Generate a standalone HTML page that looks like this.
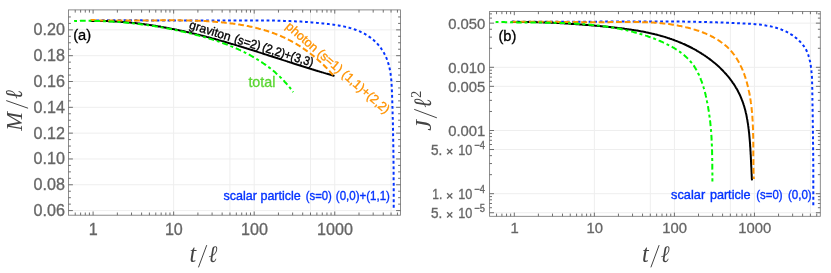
<!DOCTYPE html>
<html><head><meta charset="utf-8"><title>plot</title>
<style>html,body{margin:0;padding:0;background:#fff;overflow:hidden}svg{display:block;will-change:transform}svg text{white-space:pre}</style></head>
<body>
<svg width="831" height="273" viewBox="0 0 831 273">
<rect width="831" height="273" fill="#fff"/>
<line x1="173.65" y1="9.90" x2="173.65" y2="215.20" stroke="#eeeeee" stroke-width="1"/>
<line x1="229.95" y1="9.90" x2="229.95" y2="215.20" stroke="#eeeeee" stroke-width="1"/>
<line x1="254.20" y1="9.90" x2="254.20" y2="215.20" stroke="#eeeeee" stroke-width="1"/>
<line x1="310.50" y1="9.90" x2="310.50" y2="215.20" stroke="#eeeeee" stroke-width="1"/>
<line x1="334.75" y1="9.90" x2="334.75" y2="215.20" stroke="#eeeeee" stroke-width="1"/>
<line x1="391.05" y1="9.90" x2="391.05" y2="215.20" stroke="#eeeeee" stroke-width="1"/>
<line x1="68.50" y1="210.60" x2="400.50" y2="210.60" stroke="#eeeeee" stroke-width="1"/>
<line x1="68.50" y1="184.78" x2="400.50" y2="184.78" stroke="#eeeeee" stroke-width="1"/>
<line x1="68.50" y1="158.96" x2="400.50" y2="158.96" stroke="#eeeeee" stroke-width="1"/>
<line x1="68.50" y1="133.14" x2="400.50" y2="133.14" stroke="#eeeeee" stroke-width="1"/>
<line x1="68.50" y1="107.32" x2="400.50" y2="107.32" stroke="#eeeeee" stroke-width="1"/>
<line x1="68.50" y1="81.50" x2="400.50" y2="81.50" stroke="#eeeeee" stroke-width="1"/>
<line x1="68.50" y1="55.68" x2="400.50" y2="55.68" stroke="#eeeeee" stroke-width="1"/>
<line x1="68.50" y1="29.86" x2="400.50" y2="29.86" stroke="#eeeeee" stroke-width="1"/>
<path d="M90.6,20.4 L92.2,20.4 L93.7,20.4 L95.2,20.4 L96.7,20.4 L98.2,20.4 L99.8,20.3 L101.3,20.3 L102.8,20.3 L104.4,20.3 L105.9,20.3 L107.4,20.3 L109.0,20.3 L110.5,20.3 L112.0,20.3 L113.6,20.3 L115.1,20.3 L116.6,20.3 L118.2,20.3 L119.7,20.3 L121.2,20.3 L122.8,20.3 L124.3,20.3 L125.8,20.3 L127.4,20.3 L128.9,20.3 L130.5,20.3 L132.0,20.3 L133.6,20.3 L135.1,20.3 L136.6,20.3 L138.2,20.3 L139.7,20.3 L141.3,20.3 L142.8,20.4 L144.4,20.4 L145.9,20.4 L147.4,20.4 L149.0,20.4 L150.5,20.4 L152.1,20.4 L153.6,20.4 L155.2,20.4 L156.7,20.4 L158.3,20.4 L159.8,20.5 L161.4,20.5 L162.9,20.5 L164.4,20.5 L166.0,20.5 L167.5,20.5 L169.1,20.5 L170.6,20.5 L172.2,20.5 L173.7,20.5 L175.3,20.6 L176.8,20.6 L178.3,20.6 L179.9,20.6 L181.4,20.6 L183.0,20.6 L184.5,20.6 L186.1,20.6 L187.6,20.6 L189.1,20.6 L190.7,20.6 L192.2,20.6 L193.8,20.6 L195.3,20.6 L196.8,20.6 L198.4,20.6 L199.9,20.6 L201.4,20.6 L203.0,20.6 L204.5,20.6 L206.0,20.6 L207.6,20.6 L209.1,20.6 L210.6,20.6 L212.2,20.6 L213.7,20.6 L215.2,20.5 L216.8,20.5 L218.3,20.5 L219.8,20.5 L221.3,20.5 L222.9,20.5 L224.4,20.5 L225.9,20.5 L227.4,20.5 L229.0,20.4 L230.5,20.4 L232.0,20.4 L233.5,20.4 L235.1,20.4 L236.6,20.4 L238.1,20.4 L239.6,20.4 L241.2,20.4 L242.7,20.4 L244.2,20.4 L245.7,20.4 L247.3,20.4 L248.8,20.4 L250.3,20.4 L251.8,20.4 L253.4,20.4 L254.9,20.4 L256.4,20.4 L257.9,20.4 L259.5,20.4 L261.0,20.4 L262.5,20.4 L264.0,20.4 L265.6,20.5 L267.1,20.5 L268.6,20.5 L270.2,20.5 L271.7,20.5 L273.2,20.6 L274.7,20.6 L276.3,20.6 L277.8,20.7 L279.4,20.7 L280.9,20.8 L282.4,20.8 L284.0,20.9 L285.5,20.9 L287.0,21.0 L288.6,21.0 L290.1,21.1 L291.7,21.2 L293.2,21.2 L294.7,21.3 L296.3,21.4 L297.8,21.5 L299.4,21.6 L300.9,21.6 L302.5,21.7 L304.0,21.8 L305.6,21.9 L307.2,22.0 L308.7,22.2 L310.3,22.3 L311.8,22.4 L313.4,22.5 L315.0,22.6 L316.5,22.8 L318.1,22.9 L319.7,23.1 L321.2,23.2 L322.8,23.4 L324.4,23.5 L325.9,23.7 L327.5,23.9 L329.1,24.1 L330.7,24.2 L332.2,24.5 L333.8,24.7 L335.3,24.9 L336.9,25.2 L338.4,25.4 L340.0,25.7 L341.5,26.0 L343.0,26.3 L344.5,26.6 L346.0,27.0 L347.5,27.3 L349.0,27.7 L350.5,28.1 L351.9,28.6 L353.4,29.0 L354.8,29.5 L356.2,30.0 L357.6,30.6 L359.0,31.1 L360.3,31.7 L361.7,32.4 L363.0,33.0 L364.3,33.7 L365.6,34.4 L366.9,35.2 L368.1,36.0 L369.3,36.8 L370.5,37.6 L371.7,38.5 L372.8,39.5 L374.0,40.4 L375.1,41.4 L376.1,42.5 L377.2,43.6 L378.2,44.7 L379.1,45.8 L380.1,47.0 L381.0,48.2 L381.8,49.5 L382.7,50.8 L383.5,52.1 L384.2,53.4 L384.9,54.8 L385.6,56.1 L386.2,57.5 L386.8,59.0 L387.3,60.4 L387.8,61.9 L388.3,63.3 L388.7,64.8 L389.1,66.3 L389.5,67.8 L389.8,69.3 L390.1,70.8 L390.3,72.3 L390.6,73.9 L390.8,75.4 L391.0,76.9 L391.1,78.5 L391.3,80.0 L391.4,81.6 L391.5,83.1 L391.6,84.7 L391.7,86.2 L391.8,87.8 L391.8,89.4 L391.9,90.9 L392.0,92.5 L392.0,94.0 L392.1,95.6 L392.1,97.2 L392.2,98.7 L392.2,100.3 L392.3,101.8 L392.3,103.4 L392.4,104.9 L392.4,106.5 L392.5,108.0 L392.5,109.6 L392.6,111.1 L392.6,112.6 L392.6,114.2 L392.7,115.7 L392.7,117.3 L392.8,118.8 L392.8,120.3 L392.8,121.9 L392.9,123.4 L392.9,124.9 L392.9,126.5 L393.0,128.0 L393.0,129.6 L393.0,131.1 L393.1,132.6 L393.1,134.2 L393.1,135.7 L393.2,137.2 L393.2,138.7 L393.2,140.3 L393.2,141.8 L393.3,143.3 L393.3,144.9 L393.3,146.4 L393.3,147.9 L393.4,149.5 L393.4,151.0 L393.4,152.5 L393.4,154.0 L393.4,155.6 L393.5,157.1 L393.5,158.6 L393.5,160.2 L393.5,161.7 L393.5,163.2 L393.5,164.7 L393.5,166.3 L393.6,167.8 L393.6,169.3 L393.6,170.9 L393.6,172.4 L393.6,173.9 L393.6,175.5 L393.6,177.0 L393.6,178.5 L393.6,180.1 L393.6,181.6 L393.7,183.1 L393.7,184.7 L393.7,186.2 L393.7,187.7 L393.7,189.3 L393.7,190.8 L393.7,192.4 L393.7,193.9 L393.7,195.4 L393.7,197.0 L393.7,198.5 L393.7,200.1 L393.7,201.6 L393.7,203.2 L393.7,204.7 L393.7,206.3 L393.7,207.8" fill="none" stroke="#0433ff" stroke-width="2" stroke-dasharray="2.8 2.7" stroke-dashoffset="0"/>
<path d="M90.7,21.0 L91.5,21.0 L92.4,21.0 L93.2,20.9 L94.1,20.9 L94.9,20.9 L95.8,20.9 L96.6,20.9 L97.5,20.9 L98.3,20.9 L99.1,20.9 L100.0,21.0 L100.8,21.0 L101.7,21.0 L102.5,21.0 L103.4,21.0 L104.2,21.0 L105.1,21.0 L105.9,21.1 L106.8,21.1 L107.6,21.1 L108.4,21.2 L109.3,21.2 L110.1,21.2 L111.0,21.3 L111.8,21.3 L112.6,21.3 L113.5,21.4 L114.3,21.4 L115.2,21.5 L116.0,21.5 L116.9,21.6 L117.7,21.6 L118.5,21.7 L119.4,21.7 L120.2,21.8 L121.0,21.8 L121.9,21.9 L122.7,22.0 L123.6,22.0 L124.4,22.1 L125.2,22.2 L126.1,22.2 L126.9,22.3 L127.7,22.4 L128.6,22.5 L129.4,22.5 L130.3,22.6 L131.1,22.7 L131.9,22.8 L132.8,22.9 L133.6,23.0 L134.4,23.0 L135.3,23.1 L136.1,23.2 L136.9,23.3 L137.8,23.4 L138.6,23.5 L139.4,23.6 L140.3,23.7 L141.1,23.8 L141.9,23.9 L142.8,24.0 L143.6,24.1 L144.4,24.2 L145.2,24.4 L146.1,24.5 L146.9,24.6 L147.7,24.7 L148.6,24.8 L149.4,24.9 L150.2,25.1 L151.1,25.2 L151.9,25.3 L152.7,25.4 L153.5,25.6 L154.4,25.7 L155.2,25.8 L156.0,26.0 L156.8,26.1 L157.7,26.2 L158.5,26.4 L159.3,26.5 L160.1,26.6 L161.0,26.8 L161.8,26.9 L162.6,27.1 L163.4,27.2 L164.3,27.4 L165.1,27.5 L165.9,27.7 L166.7,27.8 L167.6,28.0 L168.4,28.1 L169.2,28.3 L170.0,28.4 L170.9,28.6 L171.7,28.8 L172.5,28.9 L173.3,29.1 L174.1,29.2 L175.0,29.4 L175.8,29.6 L176.6,29.7 L177.4,29.9 L178.2,30.1 L179.1,30.3 L179.9,30.4 L180.7,30.6 L181.5,30.8 L182.3,31.0 L183.2,31.1 L184.0,31.3 L184.8,31.5 L185.6,31.7 L186.4,31.9 L187.2,32.1 L188.1,32.2 L188.9,32.4 L189.7,32.6 L190.5,32.8 L191.3,33.0 L192.1,33.2 L193.0,33.4 L193.8,33.6 L194.6,33.8 L195.4,34.0 L196.2,34.2 L197.0,34.4 L197.9,34.6 L198.7,34.8 L199.5,35.0 L200.3,35.2 L201.1,35.4 L201.9,35.6 L202.7,35.8 L203.5,36.0 L204.4,36.2 L205.2,36.4 L206.0,36.6 L206.8,36.9 L207.6,37.1 L208.4,37.3 L209.2,37.5 L210.0,37.7 L210.8,37.9 L211.7,38.2 L212.5,38.4 L213.3,38.6 L214.1,38.8 L214.9,39.0 L215.7,39.3 L216.5,39.5 L217.3,39.7 L218.1,39.9 L218.9,40.2 L219.8,40.4 L220.6,40.6 L221.4,40.9 L222.2,41.1 L223.0,41.3 L223.8,41.5 L224.6,41.8 L225.4,42.0 L226.2,42.2 L227.0,42.5 L227.8,42.7 L228.6,43.0 L229.4,43.2 L230.2,43.4 L231.0,43.7 L231.9,43.9 L232.7,44.1 L233.5,44.4 L234.3,44.6 L235.1,44.9 L235.9,45.1 L236.7,45.4 L237.5,45.6 L238.3,45.8 L239.1,46.1 L239.9,46.3 L240.7,46.6 L241.5,46.8 L242.3,47.1 L243.1,47.3 L243.9,47.6 L244.7,47.8 L245.5,48.1 L246.3,48.3 L247.1,48.6 L247.9,48.8 L248.7,49.1 L249.5,49.3 L250.3,49.6 L251.1,49.8 L251.9,50.1 L252.8,50.3 L253.6,50.6 L254.4,50.8 L255.2,51.1 L256.0,51.4 L256.8,51.6 L257.6,51.9 L258.4,52.1 L259.2,52.4 L260.0,52.6 L260.8,52.9 L261.6,53.1 L262.4,53.4 L263.2,53.7 L264.0,53.9 L264.8,54.2 L265.6,54.4 L266.4,54.7 L267.2,54.9 L268.0,55.2 L268.8,55.5 L269.6,55.7 L270.4,56.0 L271.2,56.2 L272.0,56.5 L272.8,56.7 L273.6,57.0 L274.4,57.3 L275.2,57.5 L276.0,57.8 L276.8,58.0 L277.6,58.3 L278.4,58.6 L279.2,58.8 L280.0,59.1 L280.8,59.3 L281.6,59.6 L282.4,59.9 L283.2,60.1 L284.0,60.4 L284.8,60.6 L285.6,60.9 L286.4,61.1 L287.2,61.4 L288.0,61.7 L288.8,61.9 L289.6,62.2 L290.4,62.4 L291.2,62.7 L292.0,62.9 L292.8,63.2 L293.6,63.5 L294.4,63.7 L295.2,64.0 L296.0,64.2 L296.8,64.5 L297.6,64.7 L298.4,65.0 L299.2,65.2 L300.0,65.5 L300.8,65.7 L301.6,66.0 L302.4,66.3 L303.2,66.5 L304.0,66.8 L304.8,67.0 L305.6,67.3 L306.4,67.5 L307.2,67.8 L308.0,68.0 L308.8,68.3 L309.6,68.5 L310.4,68.8 L311.2,69.0 L312.0,69.3 L312.8,69.5 L313.6,69.7 L314.4,70.0 L315.2,70.2 L316.0,70.5 L316.8,70.7 L317.6,71.0 L318.4,71.2 L319.2,71.4 L320.0,71.7 L320.8,71.9 L321.6,72.2 L322.4,72.4 L323.2,72.6 L324.0,72.9 L324.8,73.1 L325.6,73.4 L326.4,73.6 L327.2,73.8 L328.0,74.1 L328.9,74.3 L329.7,74.5 L330.5,74.8 L331.3,75.0 L332.1,75.2 L332.9,75.5 L333.7,75.7 L334.5,75.9" fill="none" stroke="#000" stroke-width="2"/>
<path d="M90.6,20.0 L91.5,20.0 L92.3,20.1 L93.2,20.1 L94.1,20.1 L94.9,20.2 L95.8,20.2 L96.7,20.2 L97.5,20.3 L98.4,20.3 L99.3,20.3 L100.1,20.4 L101.0,20.4 L101.8,20.4 L102.7,20.4 L103.6,20.5 L104.4,20.5 L105.3,20.5 L106.2,20.5 L107.0,20.5 L107.9,20.5 L108.8,20.6 L109.6,20.6 L110.5,20.6 L111.4,20.6 L112.2,20.6 L113.1,20.6 L114.0,20.6 L114.8,20.6 L115.7,20.6 L116.6,20.6 L117.4,20.6 L118.3,20.6 L119.2,20.6 L120.0,20.6 L120.9,20.6 L121.7,20.6 L122.6,20.6 L123.5,20.6 L124.3,20.6 L125.2,20.6 L126.1,20.6 L126.9,20.6 L127.8,20.6 L128.7,20.6 L129.5,20.6 L130.4,20.6 L131.3,20.6 L132.1,20.6 L133.0,20.6 L133.9,20.6 L134.7,20.6 L135.6,20.6 L136.5,20.6 L137.3,20.6 L138.2,20.6 L139.1,20.5 L139.9,20.5 L140.8,20.5 L141.7,20.5 L142.6,20.5 L143.4,20.5 L144.3,20.5 L145.2,20.5 L146.0,20.5 L146.9,20.5 L147.8,20.5 L148.6,20.4 L149.5,20.4 L150.4,20.4 L151.2,20.4 L152.1,20.4 L153.0,20.4 L153.8,20.4 L154.7,20.4 L155.6,20.4 L156.4,20.4 L157.3,20.4 L158.2,20.3 L159.0,20.3 L159.9,20.3 L160.8,20.3 L161.6,20.3 L162.5,20.3 L163.4,20.3 L164.2,20.3 L165.1,20.3 L166.0,20.3 L166.8,20.3 L167.7,20.3 L168.6,20.3 L169.4,20.3 L170.3,20.3 L171.2,20.3 L172.0,20.3 L172.9,20.3 L173.8,20.3 L174.6,20.3 L175.5,20.3 L176.4,20.3 L177.2,20.3 L178.1,20.3 L179.0,20.3 L179.9,20.3 L180.7,20.3 L181.6,20.4 L182.5,20.4 L183.3,20.4 L184.2,20.4 L185.1,20.4 L185.9,20.4 L186.8,20.4 L187.7,20.5 L188.5,20.5 L189.4,20.5 L190.3,20.5 L191.1,20.5 L192.0,20.6 L192.9,20.6 L193.7,20.6 L194.6,20.6 L195.5,20.7 L196.3,20.7 L197.2,20.7 L198.1,20.8 L198.9,20.8 L199.8,20.8 L200.7,20.9 L201.5,20.9 L202.4,21.0 L203.3,21.0 L204.1,21.1 L205.0,21.1 L205.9,21.1 L206.7,21.2 L207.6,21.2 L208.5,21.3 L209.3,21.4 L210.2,21.4 L211.1,21.5 L211.9,21.5 L212.8,21.6 L213.7,21.7 L214.5,21.7 L215.4,21.8 L216.3,21.9 L217.1,21.9 L218.0,22.0 L218.8,22.1 L219.7,22.2 L220.6,22.2 L221.4,22.3 L222.3,22.4 L223.2,22.5 L224.0,22.6 L224.9,22.7 L225.8,22.8 L226.6,22.9 L227.5,23.0 L228.4,23.1 L229.2,23.2 L230.1,23.3 L231.0,23.4 L231.8,23.5 L232.7,23.6 L233.5,23.7 L234.4,23.8 L235.3,24.0 L236.1,24.1 L237.0,24.2 L237.8,24.3 L238.7,24.5 L239.6,24.6 L240.4,24.7 L241.3,24.9 L242.1,25.0 L243.0,25.2 L243.8,25.3 L244.7,25.5 L245.5,25.6 L246.4,25.8 L247.2,26.0 L248.1,26.1 L248.9,26.3 L249.8,26.5 L250.6,26.7 L251.5,26.8 L252.3,27.0 L253.2,27.2 L254.0,27.4 L254.9,27.6 L255.7,27.8 L256.5,28.0 L257.4,28.2 L258.2,28.4 L259.0,28.7 L259.9,28.9 L260.7,29.1 L261.5,29.3 L262.4,29.6 L263.2,29.8 L264.0,30.0 L264.8,30.3 L265.7,30.5 L266.5,30.8 L267.3,31.0 L268.1,31.3 L268.9,31.6 L269.8,31.8 L270.6,32.1 L271.4,32.4 L272.2,32.7 L273.0,33.0 L273.8,33.3 L274.6,33.6 L275.4,33.9 L276.2,34.2 L277.0,34.5 L277.8,34.8 L278.6,35.1 L279.4,35.4 L280.2,35.8 L281.0,36.1 L281.8,36.5 L282.5,36.8 L283.3,37.2 L284.1,37.5 L284.9,37.9 L285.7,38.3 L286.4,38.6 L287.2,39.0 L288.0,39.4 L288.7,39.8 L289.5,40.2 L290.3,40.6 L291.0,41.0 L291.8,41.4 L292.5,41.8 L293.3,42.2 L294.0,42.6 L294.8,43.1 L295.5,43.5 L296.3,43.9 L297.0,44.4 L297.7,44.8 L298.5,45.3 L299.2,45.7 L299.9,46.2 L300.7,46.7 L301.4,47.1 L302.1,47.6 L302.8,48.1 L303.5,48.6 L304.2,49.1 L305.0,49.6 L305.7,50.1 L306.4,50.6 L307.1,51.1 L307.8,51.6 L308.5,52.1 L309.2,52.6 L309.8,53.2 L310.5,53.7 L311.2,54.2 L311.9,54.8 L312.6,55.3 L313.3,55.8 L313.9,56.4 L314.6,56.9 L315.3,57.5 L315.9,58.1 L316.6,58.6 L317.3,59.2 L317.9,59.8 L318.6,60.4 L319.2,60.9 L319.9,61.5 L320.5,62.1 L321.1,62.7 L321.8,63.3 L322.4,63.9 L323.0,64.5 L323.7,65.1 L324.3,65.7 L324.9,66.3 L325.5,67.0 L326.2,67.6 L326.8,68.2 L327.4,68.8 L328.0,69.5 L328.6,70.1 L329.2,70.8 L329.8,71.4 L330.4,72.1 L331.0,72.7 L331.5,73.4 L332.1,74.0 L332.7,74.7 L333.3,75.3 L333.8,76.0" fill="none" stroke="#ff9300" stroke-width="2" stroke-dasharray="5.8 2.9" stroke-dashoffset="0"/>
<path d="M74.1,21.0 L74.9,20.9 L75.7,20.9 L76.5,20.9 L77.3,20.9 L78.1,20.9 L78.9,20.9 L79.7,20.9 L80.5,20.8 L81.3,20.8 L82.1,20.8 L82.9,20.8 L83.7,20.8 L84.5,20.8 L85.3,20.8 L86.1,20.8 L86.9,20.8 L87.7,20.8 L88.5,20.8 L89.3,20.8 L90.1,20.8 L90.9,20.9 L91.7,20.9 L92.5,20.9 L93.3,20.9 L94.1,20.9 L94.9,20.9 L95.7,20.9 L96.5,21.0 L97.3,21.0 L98.1,21.0 L98.9,21.0 L99.7,21.0 L100.5,21.1 L101.3,21.1 L102.0,21.1 L102.8,21.2 L103.6,21.2 L104.4,21.2 L105.2,21.3 L106.0,21.3 L106.8,21.3 L107.6,21.4 L108.4,21.4 L109.2,21.5 L110.0,21.5 L110.8,21.5 L111.6,21.6 L112.4,21.6 L113.2,21.7 L114.0,21.7 L114.8,21.8 L115.6,21.8 L116.3,21.9 L117.1,21.9 L117.9,22.0 L118.7,22.1 L119.5,22.1 L120.3,22.2 L121.1,22.2 L121.9,22.3 L122.7,22.4 L123.5,22.4 L124.3,22.5 L125.1,22.6 L125.9,22.6 L126.6,22.7 L127.4,22.8 L128.2,22.9 L129.0,22.9 L129.8,23.0 L130.6,23.1 L131.4,23.2 L132.2,23.3 L133.0,23.3 L133.8,23.4 L134.5,23.5 L135.3,23.6 L136.1,23.7 L136.9,23.8 L137.7,23.9 L138.5,24.0 L139.3,24.1 L140.1,24.2 L140.8,24.3 L141.6,24.4 L142.4,24.5 L143.2,24.6 L144.0,24.7 L144.8,24.8 L145.6,24.9 L146.4,25.0 L147.1,25.1 L147.9,25.2 L148.7,25.3 L149.5,25.4 L150.3,25.5 L151.1,25.7 L151.9,25.8 L152.6,25.9 L153.4,26.0 L154.2,26.1 L155.0,26.3 L155.8,26.4 L156.6,26.5 L157.4,26.6 L158.1,26.8 L158.9,26.9 L159.7,27.0 L160.5,27.2 L161.3,27.3 L162.1,27.4 L162.8,27.6 L163.6,27.7 L164.4,27.9 L165.2,28.0 L166.0,28.2 L166.8,28.3 L167.5,28.5 L168.3,28.6 L169.1,28.8 L169.9,28.9 L170.7,29.1 L171.5,29.2 L172.2,29.4 L173.0,29.5 L173.8,29.7 L174.6,29.8 L175.4,30.0 L176.1,30.2 L176.9,30.3 L177.7,30.5 L178.5,30.7 L179.3,30.8 L180.0,31.0 L180.8,31.2 L181.6,31.4 L182.4,31.5 L183.2,31.7 L183.9,31.9 L184.7,32.1 L185.5,32.3 L186.3,32.4 L187.1,32.6 L187.8,32.8 L188.6,33.0 L189.4,33.2 L190.2,33.4 L191.0,33.6 L191.7,33.8 L192.5,34.0 L193.3,34.2 L194.1,34.4 L194.9,34.6 L195.6,34.8 L196.4,35.0 L197.2,35.2 L198.0,35.4 L198.7,35.6 L199.5,35.8 L200.3,36.0 L201.1,36.2 L201.8,36.4 L202.6,36.6 L203.4,36.9 L204.2,37.1 L204.9,37.3 L205.7,37.5 L206.5,37.8 L207.2,38.0 L208.0,38.2 L208.8,38.4 L209.6,38.7 L210.3,38.9 L211.1,39.1 L211.9,39.4 L212.6,39.6 L213.4,39.9 L214.2,40.1 L214.9,40.4 L215.7,40.6 L216.4,40.9 L217.2,41.1 L218.0,41.4 L218.7,41.6 L219.5,41.9 L220.2,42.2 L221.0,42.4 L221.8,42.7 L222.5,43.0 L223.3,43.2 L224.0,43.5 L224.8,43.8 L225.5,44.1 L226.3,44.4 L227.0,44.6 L227.8,44.9 L228.5,45.2 L229.2,45.5 L230.0,45.8 L230.7,46.1 L231.5,46.4 L232.2,46.7 L232.9,47.0 L233.7,47.3 L234.4,47.6 L235.1,48.0 L235.9,48.3 L236.6,48.6 L237.3,48.9 L238.0,49.2 L238.8,49.6 L239.5,49.9 L240.2,50.2 L240.9,50.6 L241.7,50.9 L242.4,51.3 L243.1,51.6 L243.8,51.9 L244.5,52.3 L245.2,52.7 L245.9,53.0 L246.6,53.4 L247.3,53.7 L248.0,54.1 L248.7,54.5 L249.4,54.8 L250.1,55.2 L250.8,55.6 L251.5,56.0 L252.2,56.4 L252.9,56.8 L253.6,57.2 L254.2,57.5 L254.9,57.9 L255.6,58.4 L256.3,58.8 L256.9,59.2 L257.6,59.6 L258.3,60.0 L259.0,60.4 L259.6,60.8 L260.3,61.3 L260.9,61.7 L261.6,62.1 L262.2,62.6 L262.9,63.0 L263.5,63.5 L264.2,63.9 L264.8,64.4 L265.5,64.8 L266.1,65.3 L266.8,65.7 L267.4,66.2 L268.0,66.7 L268.6,67.1 L269.3,67.6 L269.9,68.1 L270.5,68.6 L271.1,69.1 L271.7,69.6 L272.4,70.1 L273.0,70.6 L273.6,71.1 L274.2,71.6 L274.8,72.1 L275.4,72.6 L276.0,73.2 L276.6,73.7 L277.1,74.2 L277.7,74.7 L278.3,75.3 L278.9,75.8 L279.5,76.4 L280.0,76.9 L280.6,77.5 L281.2,78.0 L281.7,78.6 L282.3,79.2 L282.9,79.7 L283.4,80.3 L284.0,80.9 L284.5,81.5 L285.0,82.1 L285.6,82.7 L286.1,83.3 L286.7,83.9 L287.2,84.5 L287.7,85.1 L288.2,85.7 L288.7,86.3 L289.3,87.0 L289.8,87.6 L290.3,88.2 L290.8,88.9 L291.3,89.5 L291.8,90.2 L292.3,90.8 L292.8,91.5 L293.2,92.1" fill="none" stroke="#00f900" stroke-width="2" stroke-dasharray="2.9 2.9 5.8 2.9" stroke-dashoffset="0"/>
<rect x="68.50" y="9.90" width="332.00" height="205.30" fill="none" stroke="#787878" stroke-width="0.85"/>
<line x1="75.23" y1="215.20" x2="75.23" y2="212.50" stroke="#606060" stroke-width="0.9"/>
<line x1="75.23" y1="9.90" x2="75.23" y2="12.60" stroke="#606060" stroke-width="0.9"/>
<line x1="80.62" y1="215.20" x2="80.62" y2="212.50" stroke="#606060" stroke-width="0.9"/>
<line x1="80.62" y1="9.90" x2="80.62" y2="12.60" stroke="#606060" stroke-width="0.9"/>
<line x1="85.29" y1="215.20" x2="85.29" y2="212.50" stroke="#606060" stroke-width="0.9"/>
<line x1="85.29" y1="9.90" x2="85.29" y2="12.60" stroke="#606060" stroke-width="0.9"/>
<line x1="89.41" y1="215.20" x2="89.41" y2="212.50" stroke="#606060" stroke-width="0.9"/>
<line x1="89.41" y1="9.90" x2="89.41" y2="12.60" stroke="#606060" stroke-width="0.9"/>
<line x1="93.10" y1="215.20" x2="93.10" y2="211.50" stroke="#606060" stroke-width="0.9"/>
<line x1="93.10" y1="9.90" x2="93.10" y2="13.60" stroke="#606060" stroke-width="0.9"/>
<line x1="117.35" y1="215.20" x2="117.35" y2="212.50" stroke="#606060" stroke-width="0.9"/>
<line x1="117.35" y1="9.90" x2="117.35" y2="12.60" stroke="#606060" stroke-width="0.9"/>
<line x1="131.53" y1="215.20" x2="131.53" y2="212.50" stroke="#606060" stroke-width="0.9"/>
<line x1="131.53" y1="9.90" x2="131.53" y2="12.60" stroke="#606060" stroke-width="0.9"/>
<line x1="141.60" y1="215.20" x2="141.60" y2="212.50" stroke="#606060" stroke-width="0.9"/>
<line x1="141.60" y1="9.90" x2="141.60" y2="12.60" stroke="#606060" stroke-width="0.9"/>
<line x1="149.40" y1="215.20" x2="149.40" y2="212.50" stroke="#606060" stroke-width="0.9"/>
<line x1="149.40" y1="9.90" x2="149.40" y2="12.60" stroke="#606060" stroke-width="0.9"/>
<line x1="155.78" y1="215.20" x2="155.78" y2="212.50" stroke="#606060" stroke-width="0.9"/>
<line x1="155.78" y1="9.90" x2="155.78" y2="12.60" stroke="#606060" stroke-width="0.9"/>
<line x1="161.17" y1="215.20" x2="161.17" y2="212.50" stroke="#606060" stroke-width="0.9"/>
<line x1="161.17" y1="9.90" x2="161.17" y2="12.60" stroke="#606060" stroke-width="0.9"/>
<line x1="165.84" y1="215.20" x2="165.84" y2="212.50" stroke="#606060" stroke-width="0.9"/>
<line x1="165.84" y1="9.90" x2="165.84" y2="12.60" stroke="#606060" stroke-width="0.9"/>
<line x1="169.96" y1="215.20" x2="169.96" y2="212.50" stroke="#606060" stroke-width="0.9"/>
<line x1="169.96" y1="9.90" x2="169.96" y2="12.60" stroke="#606060" stroke-width="0.9"/>
<line x1="173.65" y1="215.20" x2="173.65" y2="211.50" stroke="#606060" stroke-width="0.9"/>
<line x1="173.65" y1="9.90" x2="173.65" y2="13.60" stroke="#606060" stroke-width="0.9"/>
<line x1="197.90" y1="215.20" x2="197.90" y2="212.50" stroke="#606060" stroke-width="0.9"/>
<line x1="197.90" y1="9.90" x2="197.90" y2="12.60" stroke="#606060" stroke-width="0.9"/>
<line x1="212.08" y1="215.20" x2="212.08" y2="212.50" stroke="#606060" stroke-width="0.9"/>
<line x1="212.08" y1="9.90" x2="212.08" y2="12.60" stroke="#606060" stroke-width="0.9"/>
<line x1="222.15" y1="215.20" x2="222.15" y2="212.50" stroke="#606060" stroke-width="0.9"/>
<line x1="222.15" y1="9.90" x2="222.15" y2="12.60" stroke="#606060" stroke-width="0.9"/>
<line x1="229.95" y1="215.20" x2="229.95" y2="212.50" stroke="#606060" stroke-width="0.9"/>
<line x1="229.95" y1="9.90" x2="229.95" y2="12.60" stroke="#606060" stroke-width="0.9"/>
<line x1="236.33" y1="215.20" x2="236.33" y2="212.50" stroke="#606060" stroke-width="0.9"/>
<line x1="236.33" y1="9.90" x2="236.33" y2="12.60" stroke="#606060" stroke-width="0.9"/>
<line x1="241.72" y1="215.20" x2="241.72" y2="212.50" stroke="#606060" stroke-width="0.9"/>
<line x1="241.72" y1="9.90" x2="241.72" y2="12.60" stroke="#606060" stroke-width="0.9"/>
<line x1="246.39" y1="215.20" x2="246.39" y2="212.50" stroke="#606060" stroke-width="0.9"/>
<line x1="246.39" y1="9.90" x2="246.39" y2="12.60" stroke="#606060" stroke-width="0.9"/>
<line x1="250.51" y1="215.20" x2="250.51" y2="212.50" stroke="#606060" stroke-width="0.9"/>
<line x1="250.51" y1="9.90" x2="250.51" y2="12.60" stroke="#606060" stroke-width="0.9"/>
<line x1="254.20" y1="215.20" x2="254.20" y2="211.50" stroke="#606060" stroke-width="0.9"/>
<line x1="254.20" y1="9.90" x2="254.20" y2="13.60" stroke="#606060" stroke-width="0.9"/>
<line x1="278.45" y1="215.20" x2="278.45" y2="212.50" stroke="#606060" stroke-width="0.9"/>
<line x1="278.45" y1="9.90" x2="278.45" y2="12.60" stroke="#606060" stroke-width="0.9"/>
<line x1="292.63" y1="215.20" x2="292.63" y2="212.50" stroke="#606060" stroke-width="0.9"/>
<line x1="292.63" y1="9.90" x2="292.63" y2="12.60" stroke="#606060" stroke-width="0.9"/>
<line x1="302.70" y1="215.20" x2="302.70" y2="212.50" stroke="#606060" stroke-width="0.9"/>
<line x1="302.70" y1="9.90" x2="302.70" y2="12.60" stroke="#606060" stroke-width="0.9"/>
<line x1="310.50" y1="215.20" x2="310.50" y2="212.50" stroke="#606060" stroke-width="0.9"/>
<line x1="310.50" y1="9.90" x2="310.50" y2="12.60" stroke="#606060" stroke-width="0.9"/>
<line x1="316.88" y1="215.20" x2="316.88" y2="212.50" stroke="#606060" stroke-width="0.9"/>
<line x1="316.88" y1="9.90" x2="316.88" y2="12.60" stroke="#606060" stroke-width="0.9"/>
<line x1="322.27" y1="215.20" x2="322.27" y2="212.50" stroke="#606060" stroke-width="0.9"/>
<line x1="322.27" y1="9.90" x2="322.27" y2="12.60" stroke="#606060" stroke-width="0.9"/>
<line x1="326.94" y1="215.20" x2="326.94" y2="212.50" stroke="#606060" stroke-width="0.9"/>
<line x1="326.94" y1="9.90" x2="326.94" y2="12.60" stroke="#606060" stroke-width="0.9"/>
<line x1="331.06" y1="215.20" x2="331.06" y2="212.50" stroke="#606060" stroke-width="0.9"/>
<line x1="331.06" y1="9.90" x2="331.06" y2="12.60" stroke="#606060" stroke-width="0.9"/>
<line x1="334.75" y1="215.20" x2="334.75" y2="211.50" stroke="#606060" stroke-width="0.9"/>
<line x1="334.75" y1="9.90" x2="334.75" y2="13.60" stroke="#606060" stroke-width="0.9"/>
<line x1="359.00" y1="215.20" x2="359.00" y2="212.50" stroke="#606060" stroke-width="0.9"/>
<line x1="359.00" y1="9.90" x2="359.00" y2="12.60" stroke="#606060" stroke-width="0.9"/>
<line x1="373.18" y1="215.20" x2="373.18" y2="212.50" stroke="#606060" stroke-width="0.9"/>
<line x1="373.18" y1="9.90" x2="373.18" y2="12.60" stroke="#606060" stroke-width="0.9"/>
<line x1="383.25" y1="215.20" x2="383.25" y2="212.50" stroke="#606060" stroke-width="0.9"/>
<line x1="383.25" y1="9.90" x2="383.25" y2="12.60" stroke="#606060" stroke-width="0.9"/>
<line x1="391.05" y1="215.20" x2="391.05" y2="212.50" stroke="#606060" stroke-width="0.9"/>
<line x1="391.05" y1="9.90" x2="391.05" y2="12.60" stroke="#606060" stroke-width="0.9"/>
<line x1="397.43" y1="215.20" x2="397.43" y2="212.50" stroke="#606060" stroke-width="0.9"/>
<line x1="397.43" y1="9.90" x2="397.43" y2="12.60" stroke="#606060" stroke-width="0.9"/>
<line x1="68.50" y1="210.60" x2="72.90" y2="210.60" stroke="#606060" stroke-width="0.9"/>
<line x1="400.50" y1="210.60" x2="396.10" y2="210.60" stroke="#606060" stroke-width="0.9"/>
<line x1="68.50" y1="204.14" x2="70.90" y2="204.14" stroke="#606060" stroke-width="0.9"/>
<line x1="400.50" y1="204.14" x2="398.10" y2="204.14" stroke="#606060" stroke-width="0.9"/>
<line x1="68.50" y1="197.69" x2="70.90" y2="197.69" stroke="#606060" stroke-width="0.9"/>
<line x1="400.50" y1="197.69" x2="398.10" y2="197.69" stroke="#606060" stroke-width="0.9"/>
<line x1="68.50" y1="191.23" x2="70.90" y2="191.23" stroke="#606060" stroke-width="0.9"/>
<line x1="400.50" y1="191.23" x2="398.10" y2="191.23" stroke="#606060" stroke-width="0.9"/>
<line x1="68.50" y1="184.78" x2="72.90" y2="184.78" stroke="#606060" stroke-width="0.9"/>
<line x1="400.50" y1="184.78" x2="396.10" y2="184.78" stroke="#606060" stroke-width="0.9"/>
<line x1="68.50" y1="178.32" x2="70.90" y2="178.32" stroke="#606060" stroke-width="0.9"/>
<line x1="400.50" y1="178.32" x2="398.10" y2="178.32" stroke="#606060" stroke-width="0.9"/>
<line x1="68.50" y1="171.87" x2="70.90" y2="171.87" stroke="#606060" stroke-width="0.9"/>
<line x1="400.50" y1="171.87" x2="398.10" y2="171.87" stroke="#606060" stroke-width="0.9"/>
<line x1="68.50" y1="165.41" x2="70.90" y2="165.41" stroke="#606060" stroke-width="0.9"/>
<line x1="400.50" y1="165.41" x2="398.10" y2="165.41" stroke="#606060" stroke-width="0.9"/>
<line x1="68.50" y1="158.96" x2="72.90" y2="158.96" stroke="#606060" stroke-width="0.9"/>
<line x1="400.50" y1="158.96" x2="396.10" y2="158.96" stroke="#606060" stroke-width="0.9"/>
<line x1="68.50" y1="152.50" x2="70.90" y2="152.50" stroke="#606060" stroke-width="0.9"/>
<line x1="400.50" y1="152.50" x2="398.10" y2="152.50" stroke="#606060" stroke-width="0.9"/>
<line x1="68.50" y1="146.05" x2="70.90" y2="146.05" stroke="#606060" stroke-width="0.9"/>
<line x1="400.50" y1="146.05" x2="398.10" y2="146.05" stroke="#606060" stroke-width="0.9"/>
<line x1="68.50" y1="139.59" x2="70.90" y2="139.59" stroke="#606060" stroke-width="0.9"/>
<line x1="400.50" y1="139.59" x2="398.10" y2="139.59" stroke="#606060" stroke-width="0.9"/>
<line x1="68.50" y1="133.14" x2="72.90" y2="133.14" stroke="#606060" stroke-width="0.9"/>
<line x1="400.50" y1="133.14" x2="396.10" y2="133.14" stroke="#606060" stroke-width="0.9"/>
<line x1="68.50" y1="126.68" x2="70.90" y2="126.68" stroke="#606060" stroke-width="0.9"/>
<line x1="400.50" y1="126.68" x2="398.10" y2="126.68" stroke="#606060" stroke-width="0.9"/>
<line x1="68.50" y1="120.23" x2="70.90" y2="120.23" stroke="#606060" stroke-width="0.9"/>
<line x1="400.50" y1="120.23" x2="398.10" y2="120.23" stroke="#606060" stroke-width="0.9"/>
<line x1="68.50" y1="113.77" x2="70.90" y2="113.77" stroke="#606060" stroke-width="0.9"/>
<line x1="400.50" y1="113.77" x2="398.10" y2="113.77" stroke="#606060" stroke-width="0.9"/>
<line x1="68.50" y1="107.32" x2="72.90" y2="107.32" stroke="#606060" stroke-width="0.9"/>
<line x1="400.50" y1="107.32" x2="396.10" y2="107.32" stroke="#606060" stroke-width="0.9"/>
<line x1="68.50" y1="100.86" x2="70.90" y2="100.86" stroke="#606060" stroke-width="0.9"/>
<line x1="400.50" y1="100.86" x2="398.10" y2="100.86" stroke="#606060" stroke-width="0.9"/>
<line x1="68.50" y1="94.41" x2="70.90" y2="94.41" stroke="#606060" stroke-width="0.9"/>
<line x1="400.50" y1="94.41" x2="398.10" y2="94.41" stroke="#606060" stroke-width="0.9"/>
<line x1="68.50" y1="87.95" x2="70.90" y2="87.95" stroke="#606060" stroke-width="0.9"/>
<line x1="400.50" y1="87.95" x2="398.10" y2="87.95" stroke="#606060" stroke-width="0.9"/>
<line x1="68.50" y1="81.50" x2="72.90" y2="81.50" stroke="#606060" stroke-width="0.9"/>
<line x1="400.50" y1="81.50" x2="396.10" y2="81.50" stroke="#606060" stroke-width="0.9"/>
<line x1="68.50" y1="75.05" x2="70.90" y2="75.05" stroke="#606060" stroke-width="0.9"/>
<line x1="400.50" y1="75.05" x2="398.10" y2="75.05" stroke="#606060" stroke-width="0.9"/>
<line x1="68.50" y1="68.59" x2="70.90" y2="68.59" stroke="#606060" stroke-width="0.9"/>
<line x1="400.50" y1="68.59" x2="398.10" y2="68.59" stroke="#606060" stroke-width="0.9"/>
<line x1="68.50" y1="62.14" x2="70.90" y2="62.14" stroke="#606060" stroke-width="0.9"/>
<line x1="400.50" y1="62.14" x2="398.10" y2="62.14" stroke="#606060" stroke-width="0.9"/>
<line x1="68.50" y1="55.68" x2="72.90" y2="55.68" stroke="#606060" stroke-width="0.9"/>
<line x1="400.50" y1="55.68" x2="396.10" y2="55.68" stroke="#606060" stroke-width="0.9"/>
<line x1="68.50" y1="49.22" x2="70.90" y2="49.22" stroke="#606060" stroke-width="0.9"/>
<line x1="400.50" y1="49.22" x2="398.10" y2="49.22" stroke="#606060" stroke-width="0.9"/>
<line x1="68.50" y1="42.77" x2="70.90" y2="42.77" stroke="#606060" stroke-width="0.9"/>
<line x1="400.50" y1="42.77" x2="398.10" y2="42.77" stroke="#606060" stroke-width="0.9"/>
<line x1="68.50" y1="36.31" x2="70.90" y2="36.31" stroke="#606060" stroke-width="0.9"/>
<line x1="400.50" y1="36.31" x2="398.10" y2="36.31" stroke="#606060" stroke-width="0.9"/>
<line x1="68.50" y1="29.86" x2="72.90" y2="29.86" stroke="#606060" stroke-width="0.9"/>
<line x1="400.50" y1="29.86" x2="396.10" y2="29.86" stroke="#606060" stroke-width="0.9"/>
<line x1="68.50" y1="23.41" x2="70.90" y2="23.41" stroke="#606060" stroke-width="0.9"/>
<line x1="400.50" y1="23.41" x2="398.10" y2="23.41" stroke="#606060" stroke-width="0.9"/>
<line x1="68.50" y1="16.95" x2="70.90" y2="16.95" stroke="#606060" stroke-width="0.9"/>
<line x1="400.50" y1="16.95" x2="398.10" y2="16.95" stroke="#606060" stroke-width="0.9"/>
<line x1="594.35" y1="11.50" x2="594.35" y2="216.30" stroke="#eeeeee" stroke-width="1"/>
<line x1="650.30" y1="11.50" x2="650.30" y2="216.30" stroke="#eeeeee" stroke-width="1"/>
<line x1="674.40" y1="11.50" x2="674.40" y2="216.30" stroke="#eeeeee" stroke-width="1"/>
<line x1="730.35" y1="11.50" x2="730.35" y2="216.30" stroke="#eeeeee" stroke-width="1"/>
<line x1="754.45" y1="11.50" x2="754.45" y2="216.30" stroke="#eeeeee" stroke-width="1"/>
<line x1="810.40" y1="11.50" x2="810.40" y2="216.30" stroke="#eeeeee" stroke-width="1"/>
<line x1="489.60" y1="23.13" x2="820.30" y2="23.13" stroke="#eeeeee" stroke-width="1"/>
<line x1="489.60" y1="67.30" x2="820.30" y2="67.30" stroke="#eeeeee" stroke-width="1"/>
<line x1="489.60" y1="86.33" x2="820.30" y2="86.33" stroke="#eeeeee" stroke-width="1"/>
<line x1="489.60" y1="130.50" x2="820.30" y2="130.50" stroke="#eeeeee" stroke-width="1"/>
<line x1="489.60" y1="149.53" x2="820.30" y2="149.53" stroke="#eeeeee" stroke-width="1"/>
<line x1="489.60" y1="193.70" x2="820.30" y2="193.70" stroke="#eeeeee" stroke-width="1"/>
<line x1="489.60" y1="212.73" x2="820.30" y2="212.73" stroke="#eeeeee" stroke-width="1"/>
<path d="M511.7,21.5 L513.2,21.6 L514.8,21.6 L516.3,21.6 L517.9,21.6 L519.4,21.7 L521.0,21.7 L522.5,21.7 L524.1,21.7 L525.6,21.7 L527.2,21.7 L528.7,21.7 L530.2,21.8 L531.8,21.8 L533.3,21.8 L534.9,21.8 L536.4,21.8 L538.0,21.8 L539.5,21.8 L541.0,21.8 L542.6,21.8 L544.1,21.8 L545.7,21.8 L547.2,21.8 L548.7,21.8 L550.3,21.8 L551.8,21.8 L553.4,21.8 L554.9,21.8 L556.4,21.8 L558.0,21.8 L559.5,21.8 L561.1,21.8 L562.6,21.8 L564.1,21.8 L565.7,21.8 L567.2,21.8 L568.7,21.8 L570.3,21.8 L571.8,21.8 L573.4,21.8 L574.9,21.8 L576.4,21.8 L578.0,21.8 L579.5,21.8 L581.0,21.8 L582.6,21.8 L584.1,21.7 L585.6,21.7 L587.2,21.7 L588.7,21.7 L590.2,21.7 L591.8,21.7 L593.3,21.7 L594.8,21.7 L596.4,21.7 L597.9,21.7 L599.4,21.6 L601.0,21.6 L602.5,21.6 L604.0,21.6 L605.6,21.6 L607.1,21.6 L608.6,21.6 L610.2,21.6 L611.7,21.6 L613.2,21.6 L614.8,21.6 L616.3,21.5 L617.8,21.5 L619.4,21.5 L620.9,21.5 L622.4,21.5 L624.0,21.5 L625.5,21.5 L627.0,21.5 L628.6,21.5 L630.1,21.5 L631.6,21.5 L633.2,21.5 L634.7,21.5 L636.2,21.5 L637.8,21.5 L639.3,21.4 L640.8,21.4 L642.4,21.4 L643.9,21.4 L645.4,21.4 L647.0,21.4 L648.5,21.4 L650.0,21.4 L651.6,21.4 L653.1,21.4 L654.6,21.4 L656.2,21.4 L657.7,21.5 L659.2,21.5 L660.8,21.5 L662.3,21.5 L663.8,21.5 L665.4,21.5 L666.9,21.5 L668.5,21.5 L670.0,21.5 L671.5,21.5 L673.1,21.5 L674.6,21.5 L676.1,21.6 L677.7,21.6 L679.2,21.6 L680.8,21.6 L682.3,21.6 L683.8,21.6 L685.4,21.7 L686.9,21.7 L688.5,21.7 L690.0,21.7 L691.6,21.8 L693.1,21.8 L694.6,21.8 L696.2,21.8 L697.7,21.9 L699.3,21.9 L700.8,21.9 L702.4,22.0 L703.9,22.0 L705.5,22.0 L707.0,22.1 L708.5,22.1 L710.1,22.2 L711.6,22.2 L713.2,22.2 L714.7,22.3 L716.3,22.3 L717.8,22.4 L719.4,22.4 L720.9,22.5 L722.5,22.5 L724.0,22.6 L725.6,22.7 L727.2,22.7 L728.7,22.8 L730.3,22.8 L731.8,22.9 L733.4,23.0 L734.9,23.0 L736.5,23.1 L738.0,23.2 L739.6,23.2 L741.2,23.3 L742.7,23.4 L744.3,23.5 L745.8,23.5 L747.4,23.6 L749.0,23.7 L750.5,23.8 L752.1,23.9 L753.6,24.0 L755.2,24.2 L756.7,24.3 L758.2,24.5 L759.8,24.6 L761.3,24.8 L762.8,25.0 L764.3,25.2 L765.8,25.5 L767.3,25.7 L768.8,26.0 L770.3,26.3 L771.8,26.6 L773.2,27.0 L774.7,27.4 L776.1,27.8 L777.6,28.2 L779.0,28.6 L780.4,29.1 L781.8,29.7 L783.1,30.2 L784.5,30.8 L785.8,31.4 L787.2,32.1 L788.5,32.8 L789.8,33.5 L791.0,34.3 L792.3,35.1 L793.5,36.0 L794.7,36.9 L795.9,37.9 L797.1,38.8 L798.3,39.9 L799.4,41.0 L800.5,42.1 L801.5,43.3 L802.5,44.5 L803.5,45.7 L804.4,47.0 L805.2,48.3 L806.0,49.6 L806.7,51.0 L807.3,52.4 L807.9,53.8 L808.4,55.3 L808.8,56.7 L809.3,58.2 L809.6,59.7 L810.0,61.2 L810.3,62.7 L810.6,64.3 L810.8,65.8 L811.0,67.3 L811.2,68.8 L811.4,70.4 L811.5,71.9 L811.7,73.4 L811.8,75.0 L811.9,76.5 L812.0,78.0 L812.0,79.6 L812.1,81.1 L812.1,82.7 L812.2,84.2 L812.2,85.8 L812.2,87.3 L812.3,88.9 L812.3,90.4 L812.3,91.9 L812.3,93.5 L812.4,95.0 L812.4,96.6 L812.4,98.1 L812.4,99.7 L812.5,101.2 L812.5,102.7 L812.5,104.3 L812.5,105.8 L812.5,107.4 L812.6,108.9 L812.6,110.5 L812.6,112.0 L812.6,113.5 L812.7,115.1 L812.7,116.6 L812.7,118.2 L812.7,119.7 L812.8,121.2 L812.8,122.8 L812.8,124.3 L812.8,125.8 L812.8,127.4 L812.9,128.9 L812.9,130.5 L812.9,132.0 L812.9,133.5 L812.9,135.1 L813.0,136.6 L813.0,138.1 L813.0,139.7 L813.0,141.2 L813.0,142.7 L813.1,144.3 L813.1,145.8 L813.1,147.4 L813.1,148.9 L813.1,150.4 L813.1,152.0 L813.2,153.5 L813.2,155.0 L813.2,156.6 L813.2,158.1 L813.2,159.6 L813.2,161.2 L813.2,162.7 L813.3,164.3 L813.3,165.8 L813.3,167.3 L813.3,168.9 L813.3,170.4 L813.3,171.9 L813.3,173.5 L813.3,175.0 L813.3,176.5 L813.3,178.1 L813.3,179.6 L813.3,181.2 L813.3,182.7 L813.3,184.2 L813.3,185.8 L813.3,187.3 L813.3,188.9 L813.3,190.4 L813.3,191.9 L813.3,193.5 L813.3,195.0 L813.3,196.6 L813.3,198.1 L813.3,199.6 L813.3,201.2 L813.3,202.7 L813.3,204.3 L813.3,205.8" fill="none" stroke="#0433ff" stroke-width="2" stroke-dasharray="2.8 2.7" stroke-dashoffset="0"/>
<path d="M511.7,22.1 L512.8,22.0 L514.0,22.0 L515.1,22.0 L516.2,22.0 L517.4,22.0 L518.5,22.0 L519.7,22.0 L520.8,22.0 L521.9,22.0 L523.1,22.0 L524.2,22.0 L525.3,22.0 L526.5,22.0 L527.6,22.0 L528.8,22.0 L529.9,22.0 L531.0,22.1 L532.2,22.1 L533.3,22.1 L534.4,22.1 L535.6,22.1 L536.7,22.2 L537.8,22.2 L538.9,22.2 L540.1,22.3 L541.2,22.3 L542.3,22.3 L543.5,22.4 L544.6,22.4 L545.7,22.5 L546.8,22.5 L548.0,22.5 L549.1,22.6 L550.2,22.6 L551.4,22.7 L552.5,22.7 L553.6,22.8 L554.7,22.9 L555.9,22.9 L557.0,23.0 L558.1,23.0 L559.2,23.1 L560.4,23.2 L561.5,23.2 L562.6,23.3 L563.8,23.3 L564.9,23.4 L566.0,23.5 L567.1,23.6 L568.3,23.6 L569.4,23.7 L570.5,23.8 L571.6,23.9 L572.8,23.9 L573.9,24.0 L575.0,24.1 L576.1,24.2 L577.3,24.3 L578.4,24.3 L579.5,24.4 L580.6,24.5 L581.8,24.6 L582.9,24.7 L584.0,24.8 L585.2,24.9 L586.3,24.9 L587.4,25.0 L588.5,25.1 L589.7,25.2 L590.8,25.3 L591.9,25.4 L593.1,25.5 L594.2,25.6 L595.3,25.7 L596.5,25.8 L597.6,25.9 L598.7,26.0 L599.8,26.1 L601.0,26.2 L602.1,26.3 L603.2,26.4 L604.4,26.5 L605.5,26.6 L606.6,26.7 L607.8,26.8 L608.9,27.0 L610.0,27.1 L611.2,27.2 L612.3,27.3 L613.4,27.4 L614.6,27.5 L615.7,27.7 L616.8,27.8 L618.0,27.9 L619.1,28.1 L620.2,28.2 L621.4,28.3 L622.5,28.5 L623.6,28.6 L624.7,28.8 L625.9,28.9 L627.0,29.1 L628.1,29.2 L629.3,29.4 L630.4,29.5 L631.5,29.7 L632.6,29.9 L633.8,30.1 L634.9,30.2 L636.0,30.4 L637.1,30.6 L638.2,30.8 L639.4,31.0 L640.5,31.2 L641.6,31.4 L642.7,31.6 L643.8,31.8 L644.9,32.0 L646.0,32.3 L647.1,32.5 L648.3,32.7 L649.4,33.0 L650.5,33.2 L651.6,33.5 L652.7,33.7 L653.8,34.0 L654.9,34.3 L656.0,34.5 L657.1,34.8 L658.2,35.1 L659.3,35.4 L660.4,35.7 L661.4,36.0 L662.5,36.3 L663.6,36.6 L664.7,36.9 L665.8,37.3 L666.9,37.6 L667.9,38.0 L669.0,38.3 L670.1,38.7 L671.2,39.0 L672.2,39.4 L673.3,39.8 L674.4,40.2 L675.4,40.6 L676.5,41.0 L677.5,41.4 L678.6,41.8 L679.6,42.3 L680.7,42.7 L681.7,43.1 L682.8,43.6 L683.8,44.0 L684.9,44.5 L685.9,45.0 L686.9,45.5 L688.0,46.0 L689.0,46.5 L690.0,47.0 L691.0,47.5 L692.0,48.0 L693.1,48.6 L694.1,49.1 L695.1,49.7 L696.1,50.2 L697.0,50.8 L698.0,51.4 L699.0,52.0 L700.0,52.6 L701.0,53.2 L701.9,53.8 L702.9,54.4 L703.8,55.0 L704.8,55.6 L705.7,56.3 L706.6,56.9 L707.6,57.6 L708.5,58.2 L709.4,58.9 L710.3,59.6 L711.2,60.3 L712.1,61.0 L713.0,61.7 L713.9,62.4 L714.7,63.1 L715.6,63.8 L716.4,64.6 L717.3,65.3 L718.1,66.1 L719.0,66.8 L719.8,67.6 L720.6,68.4 L721.4,69.2 L722.2,70.0 L723.0,70.8 L723.7,71.6 L724.5,72.4 L725.2,73.2 L726.0,74.0 L726.7,74.9 L727.4,75.7 L728.2,76.6 L728.9,77.4 L729.6,78.3 L730.2,79.2 L730.9,80.1 L731.6,81.0 L732.2,81.9 L732.8,82.8 L733.5,83.7 L734.1,84.6 L734.7,85.5 L735.3,86.5 L735.8,87.4 L736.4,88.4 L737.0,89.3 L737.5,90.3 L738.0,91.3 L738.5,92.3 L739.0,93.2 L739.5,94.2 L740.0,95.3 L740.5,96.3 L740.9,97.3 L741.3,98.3 L741.7,99.4 L742.1,100.4 L742.5,101.4 L742.9,102.5 L743.3,103.6 L743.6,104.6 L744.0,105.7 L744.3,106.8 L744.6,107.9 L744.9,109.0 L745.2,110.1 L745.5,111.2 L745.7,112.3 L746.0,113.4 L746.3,114.5 L746.5,115.7 L746.7,116.8 L746.9,117.9 L747.1,119.0 L747.4,120.2 L747.5,121.3 L747.7,122.5 L747.9,123.6 L748.1,124.7 L748.2,125.9 L748.4,127.0 L748.5,128.2 L748.7,129.3 L748.8,130.5 L748.9,131.6 L749.1,132.8 L749.2,134.0 L749.3,135.1 L749.4,136.3 L749.5,137.4 L749.6,138.6 L749.7,139.7 L749.8,140.9 L749.9,142.0 L750.0,143.2 L750.1,144.3 L750.1,145.5 L750.2,146.6 L750.3,147.7 L750.4,148.9 L750.4,150.0 L750.5,151.2 L750.6,152.3 L750.6,153.4 L750.7,154.6 L750.8,155.7 L750.8,156.8 L750.9,158.0 L750.9,159.1 L751.0,160.2 L751.0,161.4 L751.1,162.5 L751.1,163.6 L751.2,164.7 L751.2,165.8 L751.3,167.0 L751.4,168.1 L751.4,169.2 L751.5,170.3 L751.5,171.4 L751.6,172.6 L751.6,173.7 L751.7,174.8 L751.7,175.9 L751.8,177.0 L751.8,178.1 L751.9,179.2 L752.0,180.3" fill="none" stroke="#000" stroke-width="2"/>
<path d="M511.7,21.9 L512.9,21.8 L514.1,21.8 L515.3,21.8 L516.5,21.8 L517.7,21.7 L518.9,21.7 L520.1,21.7 L521.4,21.7 L522.6,21.7 L523.8,21.7 L525.0,21.7 L526.2,21.7 L527.4,21.7 L528.6,21.7 L529.8,21.7 L531.0,21.7 L532.2,21.7 L533.4,21.7 L534.6,21.7 L535.8,21.7 L537.0,21.7 L538.2,21.7 L539.4,21.7 L540.6,21.7 L541.8,21.7 L543.0,21.7 L544.2,21.7 L545.4,21.7 L546.6,21.7 L547.8,21.7 L549.0,21.8 L550.2,21.8 L551.4,21.8 L552.6,21.8 L553.8,21.8 L555.0,21.8 L556.2,21.8 L557.4,21.8 L558.5,21.9 L559.7,21.9 L560.9,21.9 L562.1,21.9 L563.3,21.9 L564.5,21.9 L565.7,22.0 L566.9,22.0 L568.1,22.0 L569.3,22.0 L570.5,22.0 L571.7,22.0 L572.9,22.0 L574.1,22.1 L575.3,22.1 L576.5,22.1 L577.7,22.1 L578.9,22.1 L580.1,22.1 L581.3,22.1 L582.5,22.2 L583.7,22.2 L584.9,22.2 L586.1,22.2 L587.3,22.2 L588.4,22.2 L589.6,22.2 L590.8,22.2 L592.0,22.2 L593.2,22.2 L594.4,22.2 L595.6,22.2 L596.8,22.2 L598.1,22.2 L599.3,22.2 L600.5,22.2 L601.7,22.2 L602.9,22.2 L604.1,22.2 L605.3,22.2 L606.5,22.2 L607.7,22.2 L608.9,22.2 L610.1,22.1 L611.3,22.1 L612.5,22.1 L613.7,22.1 L614.9,22.1 L616.1,22.1 L617.3,22.1 L618.6,22.0 L619.8,22.0 L621.0,22.0 L622.2,22.0 L623.4,22.0 L624.6,22.0 L625.8,22.0 L627.0,22.0 L628.2,22.0 L629.4,22.0 L630.6,22.0 L631.9,22.0 L633.1,22.0 L634.3,22.0 L635.5,22.0 L636.7,22.0 L637.9,22.1 L639.1,22.1 L640.3,22.1 L641.5,22.1 L642.7,22.2 L643.9,22.2 L645.1,22.2 L646.4,22.3 L647.6,22.3 L648.8,22.4 L650.0,22.4 L651.2,22.5 L652.4,22.6 L653.6,22.6 L654.8,22.7 L656.0,22.8 L657.2,22.9 L658.4,23.0 L659.6,23.1 L660.8,23.2 L662.0,23.3 L663.2,23.4 L664.4,23.6 L665.6,23.7 L666.8,23.8 L667.9,24.0 L669.1,24.1 L670.3,24.3 L671.5,24.5 L672.7,24.7 L673.9,24.8 L675.1,25.0 L676.3,25.2 L677.5,25.4 L678.6,25.7 L679.8,25.9 L681.0,26.1 L682.2,26.4 L683.4,26.6 L684.5,26.9 L685.7,27.2 L686.9,27.4 L688.1,27.7 L689.2,28.0 L690.4,28.4 L691.6,28.7 L692.7,29.0 L693.9,29.4 L695.0,29.7 L696.2,30.1 L697.4,30.5 L698.5,30.8 L699.7,31.2 L700.8,31.7 L701.9,32.1 L703.1,32.5 L704.2,33.0 L705.3,33.4 L706.4,33.9 L707.5,34.4 L708.6,34.9 L709.7,35.4 L710.8,35.9 L711.8,36.5 L712.9,37.0 L713.9,37.6 L715.0,38.2 L716.0,38.8 L717.0,39.4 L718.0,40.0 L719.0,40.7 L720.0,41.3 L720.9,42.0 L721.9,42.7 L722.8,43.4 L723.8,44.1 L724.7,44.8 L725.5,45.6 L726.4,46.3 L727.3,47.1 L728.1,47.9 L728.9,48.7 L729.8,49.6 L730.5,50.4 L731.3,51.3 L732.1,52.2 L732.8,53.1 L733.5,54.0 L734.2,54.9 L734.9,55.9 L735.6,56.8 L736.2,57.8 L736.8,58.8 L737.4,59.8 L738.0,60.8 L738.6,61.8 L739.2,62.9 L739.7,63.9 L740.3,65.0 L740.8,66.1 L741.3,67.1 L741.8,68.2 L742.3,69.3 L742.8,70.4 L743.2,71.6 L743.6,72.7 L744.1,73.8 L744.5,74.9 L744.9,76.1 L745.3,77.2 L745.6,78.4 L746.0,79.6 L746.3,80.7 L746.7,81.9 L747.0,83.1 L747.3,84.3 L747.6,85.5 L747.9,86.6 L748.2,87.8 L748.5,89.0 L748.7,90.2 L749.0,91.4 L749.2,92.6 L749.5,93.8 L749.7,95.0 L749.9,96.2 L750.1,97.4 L750.3,98.6 L750.5,99.8 L750.7,101.0 L750.8,102.2 L751.0,103.4 L751.2,104.6 L751.3,105.8 L751.5,107.0 L751.6,108.2 L751.7,109.4 L751.8,110.6 L752.0,111.8 L752.1,113.0 L752.2,114.2 L752.3,115.4 L752.4,116.6 L752.4,117.8 L752.5,119.0 L752.6,120.2 L752.7,121.4 L752.7,122.6 L752.8,123.8 L752.8,125.0 L752.9,126.2 L752.9,127.4 L753.0,128.6 L753.0,129.8 L753.1,131.0 L753.1,132.2 L753.1,133.4 L753.1,134.6 L753.2,135.8 L753.2,137.0 L753.2,138.2 L753.2,139.4 L753.2,140.6 L753.2,141.8 L753.3,143.0 L753.3,144.3 L753.3,145.5 L753.3,146.7 L753.3,147.9 L753.3,149.1 L753.3,150.3 L753.3,151.5 L753.3,152.7 L753.3,153.9 L753.3,155.1 L753.3,156.3 L753.3,157.5 L753.3,158.7 L753.4,159.9 L753.4,161.1 L753.4,162.3 L753.4,163.5 L753.4,164.7 L753.4,165.9 L753.4,167.0 L753.5,168.2 L753.5,169.4 L753.5,170.6 L753.5,171.8 L753.6,173.0 L753.6,174.2 L753.7,175.4 L753.7,176.6 L753.8,177.8 L753.8,179.0" fill="none" stroke="#ff9300" stroke-width="2" stroke-dasharray="5.8 2.9" stroke-dashoffset="0"/>
<path d="M495.6,21.9 L496.7,21.9 L497.8,22.0 L498.9,22.0 L500.0,22.0 L501.1,22.1 L502.1,22.1 L503.2,22.1 L504.3,22.1 L505.4,22.2 L506.5,22.2 L507.6,22.2 L508.7,22.2 L509.8,22.2 L510.8,22.3 L511.9,22.3 L513.0,22.3 L514.1,22.3 L515.2,22.3 L516.3,22.3 L517.4,22.4 L518.5,22.4 L519.6,22.4 L520.7,22.4 L521.8,22.4 L522.9,22.4 L524.0,22.4 L525.1,22.4 L526.2,22.4 L527.3,22.5 L528.4,22.5 L529.5,22.5 L530.6,22.5 L531.7,22.5 L532.8,22.5 L533.9,22.5 L535.0,22.5 L536.1,22.5 L537.2,22.6 L538.3,22.6 L539.4,22.6 L540.5,22.6 L541.6,22.6 L542.7,22.6 L543.8,22.6 L544.9,22.7 L546.0,22.7 L547.1,22.7 L548.2,22.7 L549.3,22.7 L550.4,22.8 L551.5,22.8 L552.6,22.8 L553.7,22.8 L554.8,22.8 L555.9,22.9 L557.0,22.9 L558.1,22.9 L559.2,23.0 L560.3,23.0 L561.4,23.0 L562.5,23.1 L563.6,23.1 L564.7,23.2 L565.8,23.2 L566.9,23.2 L568.0,23.3 L569.1,23.3 L570.2,23.4 L571.3,23.4 L572.4,23.5 L573.5,23.6 L574.6,23.6 L575.7,23.7 L576.8,23.7 L577.9,23.8 L579.0,23.9 L580.1,24.0 L581.2,24.0 L582.3,24.1 L583.4,24.2 L584.5,24.3 L585.6,24.4 L586.7,24.5 L587.8,24.5 L588.9,24.6 L590.0,24.7 L591.1,24.8 L592.2,24.9 L593.2,25.1 L594.3,25.2 L595.4,25.3 L596.5,25.4 L597.6,25.5 L598.7,25.6 L599.8,25.8 L600.9,25.9 L601.9,26.0 L603.0,26.2 L604.1,26.3 L605.2,26.5 L606.3,26.6 L607.4,26.8 L608.4,27.0 L609.5,27.1 L610.6,27.3 L611.7,27.5 L612.8,27.6 L613.8,27.8 L614.9,28.0 L616.0,28.2 L617.1,28.4 L618.1,28.6 L619.2,28.8 L620.3,29.0 L621.4,29.2 L622.4,29.4 L623.5,29.7 L624.6,29.9 L625.6,30.1 L626.7,30.4 L627.7,30.6 L628.8,30.9 L629.9,31.1 L630.9,31.4 L632.0,31.6 L633.0,31.9 L634.1,32.2 L635.2,32.5 L636.2,32.8 L637.3,33.1 L638.3,33.3 L639.4,33.7 L640.4,34.0 L641.5,34.3 L642.5,34.6 L643.6,34.9 L644.6,35.3 L645.6,35.6 L646.7,35.9 L647.7,36.3 L648.8,36.7 L649.8,37.0 L650.8,37.4 L651.9,37.8 L652.9,38.2 L653.9,38.5 L654.9,38.9 L656.0,39.3 L657.0,39.8 L658.0,40.2 L659.0,40.6 L660.1,41.0 L661.1,41.5 L662.1,41.9 L663.1,42.4 L664.1,42.8 L665.1,43.3 L666.1,43.8 L667.1,44.3 L668.1,44.8 L669.1,45.3 L670.0,45.8 L671.0,46.3 L672.0,46.8 L672.9,47.4 L673.9,47.9 L674.8,48.5 L675.7,49.1 L676.7,49.7 L677.6,50.3 L678.5,50.9 L679.4,51.5 L680.2,52.1 L681.1,52.8 L682.0,53.4 L682.8,54.1 L683.6,54.8 L684.5,55.5 L685.3,56.2 L686.1,56.9 L686.8,57.6 L687.6,58.4 L688.3,59.1 L689.1,59.9 L689.8,60.7 L690.5,61.5 L691.2,62.3 L691.9,63.1 L692.5,64.0 L693.1,64.8 L693.8,65.7 L694.4,66.6 L694.9,67.5 L695.5,68.4 L696.1,69.4 L696.6,70.3 L697.1,71.3 L697.6,72.2 L698.1,73.2 L698.6,74.2 L699.1,75.2 L699.5,76.2 L700.0,77.2 L700.4,78.2 L700.8,79.3 L701.2,80.3 L701.6,81.3 L702.0,82.4 L702.3,83.5 L702.7,84.5 L703.0,85.6 L703.4,86.7 L703.7,87.8 L704.0,88.8 L704.3,89.9 L704.6,91.0 L704.9,92.1 L705.2,93.2 L705.5,94.3 L705.7,95.4 L706.0,96.5 L706.2,97.6 L706.5,98.7 L706.7,99.8 L706.9,100.9 L707.1,102.0 L707.4,103.1 L707.6,104.2 L707.8,105.3 L708.0,106.4 L708.2,107.5 L708.3,108.6 L708.5,109.7 L708.7,110.7 L708.9,111.8 L709.0,112.9 L709.2,114.0 L709.3,115.1 L709.5,116.2 L709.6,117.3 L709.8,118.4 L709.9,119.4 L710.0,120.5 L710.2,121.6 L710.3,122.7 L710.4,123.8 L710.5,124.9 L710.6,125.9 L710.7,127.0 L710.8,128.1 L710.9,129.2 L711.0,130.3 L711.1,131.4 L711.2,132.4 L711.2,133.5 L711.3,134.6 L711.4,135.7 L711.5,136.8 L711.5,137.9 L711.6,138.9 L711.6,140.0 L711.7,141.1 L711.7,142.2 L711.8,143.3 L711.8,144.3 L711.9,145.4 L711.9,146.5 L712.0,147.6 L712.0,148.7 L712.0,149.8 L712.1,150.9 L712.1,151.9 L712.1,153.0 L712.1,154.1 L712.2,155.2 L712.2,156.3 L712.2,157.4 L712.2,158.5 L712.2,159.6 L712.3,160.7 L712.3,161.8 L712.3,162.9 L712.3,164.0 L712.3,165.0 L712.3,166.1 L712.3,167.2 L712.3,168.3 L712.3,169.4 L712.4,170.5 L712.4,171.6 L712.4,172.8 L712.4,173.9 L712.4,175.0 L712.4,176.1 L712.4,177.2 L712.4,178.3 L712.4,179.4 L712.4,180.5 L712.4,181.6" fill="none" stroke="#00f900" stroke-width="2" stroke-dasharray="2.9 2.9 5.8 2.9" stroke-dashoffset="0"/>
<rect x="489.60" y="11.50" width="330.70" height="204.80" fill="none" stroke="#787878" stroke-width="0.85"/>
<line x1="496.54" y1="216.30" x2="496.54" y2="213.60" stroke="#606060" stroke-width="0.9"/>
<line x1="496.54" y1="11.50" x2="496.54" y2="14.20" stroke="#606060" stroke-width="0.9"/>
<line x1="501.90" y1="216.30" x2="501.90" y2="213.60" stroke="#606060" stroke-width="0.9"/>
<line x1="501.90" y1="11.50" x2="501.90" y2="14.20" stroke="#606060" stroke-width="0.9"/>
<line x1="506.54" y1="216.30" x2="506.54" y2="213.60" stroke="#606060" stroke-width="0.9"/>
<line x1="506.54" y1="11.50" x2="506.54" y2="14.20" stroke="#606060" stroke-width="0.9"/>
<line x1="510.64" y1="216.30" x2="510.64" y2="213.60" stroke="#606060" stroke-width="0.9"/>
<line x1="510.64" y1="11.50" x2="510.64" y2="14.20" stroke="#606060" stroke-width="0.9"/>
<line x1="514.30" y1="216.30" x2="514.30" y2="212.60" stroke="#606060" stroke-width="0.9"/>
<line x1="514.30" y1="11.50" x2="514.30" y2="15.20" stroke="#606060" stroke-width="0.9"/>
<line x1="538.40" y1="216.30" x2="538.40" y2="213.60" stroke="#606060" stroke-width="0.9"/>
<line x1="538.40" y1="11.50" x2="538.40" y2="14.20" stroke="#606060" stroke-width="0.9"/>
<line x1="552.49" y1="216.30" x2="552.49" y2="213.60" stroke="#606060" stroke-width="0.9"/>
<line x1="552.49" y1="11.50" x2="552.49" y2="14.20" stroke="#606060" stroke-width="0.9"/>
<line x1="562.49" y1="216.30" x2="562.49" y2="213.60" stroke="#606060" stroke-width="0.9"/>
<line x1="562.49" y1="11.50" x2="562.49" y2="14.20" stroke="#606060" stroke-width="0.9"/>
<line x1="570.25" y1="216.30" x2="570.25" y2="213.60" stroke="#606060" stroke-width="0.9"/>
<line x1="570.25" y1="11.50" x2="570.25" y2="14.20" stroke="#606060" stroke-width="0.9"/>
<line x1="576.59" y1="216.30" x2="576.59" y2="213.60" stroke="#606060" stroke-width="0.9"/>
<line x1="576.59" y1="11.50" x2="576.59" y2="14.20" stroke="#606060" stroke-width="0.9"/>
<line x1="581.95" y1="216.30" x2="581.95" y2="213.60" stroke="#606060" stroke-width="0.9"/>
<line x1="581.95" y1="11.50" x2="581.95" y2="14.20" stroke="#606060" stroke-width="0.9"/>
<line x1="586.59" y1="216.30" x2="586.59" y2="213.60" stroke="#606060" stroke-width="0.9"/>
<line x1="586.59" y1="11.50" x2="586.59" y2="14.20" stroke="#606060" stroke-width="0.9"/>
<line x1="590.69" y1="216.30" x2="590.69" y2="213.60" stroke="#606060" stroke-width="0.9"/>
<line x1="590.69" y1="11.50" x2="590.69" y2="14.20" stroke="#606060" stroke-width="0.9"/>
<line x1="594.35" y1="216.30" x2="594.35" y2="212.60" stroke="#606060" stroke-width="0.9"/>
<line x1="594.35" y1="11.50" x2="594.35" y2="15.20" stroke="#606060" stroke-width="0.9"/>
<line x1="618.45" y1="216.30" x2="618.45" y2="213.60" stroke="#606060" stroke-width="0.9"/>
<line x1="618.45" y1="11.50" x2="618.45" y2="14.20" stroke="#606060" stroke-width="0.9"/>
<line x1="632.54" y1="216.30" x2="632.54" y2="213.60" stroke="#606060" stroke-width="0.9"/>
<line x1="632.54" y1="11.50" x2="632.54" y2="14.20" stroke="#606060" stroke-width="0.9"/>
<line x1="642.54" y1="216.30" x2="642.54" y2="213.60" stroke="#606060" stroke-width="0.9"/>
<line x1="642.54" y1="11.50" x2="642.54" y2="14.20" stroke="#606060" stroke-width="0.9"/>
<line x1="650.30" y1="216.30" x2="650.30" y2="213.60" stroke="#606060" stroke-width="0.9"/>
<line x1="650.30" y1="11.50" x2="650.30" y2="14.20" stroke="#606060" stroke-width="0.9"/>
<line x1="656.64" y1="216.30" x2="656.64" y2="213.60" stroke="#606060" stroke-width="0.9"/>
<line x1="656.64" y1="11.50" x2="656.64" y2="14.20" stroke="#606060" stroke-width="0.9"/>
<line x1="662.00" y1="216.30" x2="662.00" y2="213.60" stroke="#606060" stroke-width="0.9"/>
<line x1="662.00" y1="11.50" x2="662.00" y2="14.20" stroke="#606060" stroke-width="0.9"/>
<line x1="666.64" y1="216.30" x2="666.64" y2="213.60" stroke="#606060" stroke-width="0.9"/>
<line x1="666.64" y1="11.50" x2="666.64" y2="14.20" stroke="#606060" stroke-width="0.9"/>
<line x1="670.74" y1="216.30" x2="670.74" y2="213.60" stroke="#606060" stroke-width="0.9"/>
<line x1="670.74" y1="11.50" x2="670.74" y2="14.20" stroke="#606060" stroke-width="0.9"/>
<line x1="674.40" y1="216.30" x2="674.40" y2="212.60" stroke="#606060" stroke-width="0.9"/>
<line x1="674.40" y1="11.50" x2="674.40" y2="15.20" stroke="#606060" stroke-width="0.9"/>
<line x1="698.50" y1="216.30" x2="698.50" y2="213.60" stroke="#606060" stroke-width="0.9"/>
<line x1="698.50" y1="11.50" x2="698.50" y2="14.20" stroke="#606060" stroke-width="0.9"/>
<line x1="712.59" y1="216.30" x2="712.59" y2="213.60" stroke="#606060" stroke-width="0.9"/>
<line x1="712.59" y1="11.50" x2="712.59" y2="14.20" stroke="#606060" stroke-width="0.9"/>
<line x1="722.59" y1="216.30" x2="722.59" y2="213.60" stroke="#606060" stroke-width="0.9"/>
<line x1="722.59" y1="11.50" x2="722.59" y2="14.20" stroke="#606060" stroke-width="0.9"/>
<line x1="730.35" y1="216.30" x2="730.35" y2="213.60" stroke="#606060" stroke-width="0.9"/>
<line x1="730.35" y1="11.50" x2="730.35" y2="14.20" stroke="#606060" stroke-width="0.9"/>
<line x1="736.69" y1="216.30" x2="736.69" y2="213.60" stroke="#606060" stroke-width="0.9"/>
<line x1="736.69" y1="11.50" x2="736.69" y2="14.20" stroke="#606060" stroke-width="0.9"/>
<line x1="742.05" y1="216.30" x2="742.05" y2="213.60" stroke="#606060" stroke-width="0.9"/>
<line x1="742.05" y1="11.50" x2="742.05" y2="14.20" stroke="#606060" stroke-width="0.9"/>
<line x1="746.69" y1="216.30" x2="746.69" y2="213.60" stroke="#606060" stroke-width="0.9"/>
<line x1="746.69" y1="11.50" x2="746.69" y2="14.20" stroke="#606060" stroke-width="0.9"/>
<line x1="750.79" y1="216.30" x2="750.79" y2="213.60" stroke="#606060" stroke-width="0.9"/>
<line x1="750.79" y1="11.50" x2="750.79" y2="14.20" stroke="#606060" stroke-width="0.9"/>
<line x1="754.45" y1="216.30" x2="754.45" y2="212.60" stroke="#606060" stroke-width="0.9"/>
<line x1="754.45" y1="11.50" x2="754.45" y2="15.20" stroke="#606060" stroke-width="0.9"/>
<line x1="778.55" y1="216.30" x2="778.55" y2="213.60" stroke="#606060" stroke-width="0.9"/>
<line x1="778.55" y1="11.50" x2="778.55" y2="14.20" stroke="#606060" stroke-width="0.9"/>
<line x1="792.64" y1="216.30" x2="792.64" y2="213.60" stroke="#606060" stroke-width="0.9"/>
<line x1="792.64" y1="11.50" x2="792.64" y2="14.20" stroke="#606060" stroke-width="0.9"/>
<line x1="802.64" y1="216.30" x2="802.64" y2="213.60" stroke="#606060" stroke-width="0.9"/>
<line x1="802.64" y1="11.50" x2="802.64" y2="14.20" stroke="#606060" stroke-width="0.9"/>
<line x1="810.40" y1="216.30" x2="810.40" y2="213.60" stroke="#606060" stroke-width="0.9"/>
<line x1="810.40" y1="11.50" x2="810.40" y2="14.20" stroke="#606060" stroke-width="0.9"/>
<line x1="816.74" y1="216.30" x2="816.74" y2="213.60" stroke="#606060" stroke-width="0.9"/>
<line x1="816.74" y1="11.50" x2="816.74" y2="14.20" stroke="#606060" stroke-width="0.9"/>
<line x1="489.60" y1="212.73" x2="494.00" y2="212.73" stroke="#606060" stroke-width="0.9"/>
<line x1="820.30" y1="212.73" x2="815.90" y2="212.73" stroke="#606060" stroke-width="0.9"/>
<line x1="489.60" y1="207.72" x2="492.00" y2="207.72" stroke="#606060" stroke-width="0.9"/>
<line x1="820.30" y1="207.72" x2="817.90" y2="207.72" stroke="#606060" stroke-width="0.9"/>
<line x1="489.60" y1="203.49" x2="492.00" y2="203.49" stroke="#606060" stroke-width="0.9"/>
<line x1="820.30" y1="203.49" x2="817.90" y2="203.49" stroke="#606060" stroke-width="0.9"/>
<line x1="489.60" y1="199.82" x2="492.00" y2="199.82" stroke="#606060" stroke-width="0.9"/>
<line x1="820.30" y1="199.82" x2="817.90" y2="199.82" stroke="#606060" stroke-width="0.9"/>
<line x1="489.60" y1="196.59" x2="492.00" y2="196.59" stroke="#606060" stroke-width="0.9"/>
<line x1="820.30" y1="196.59" x2="817.90" y2="196.59" stroke="#606060" stroke-width="0.9"/>
<line x1="489.60" y1="193.70" x2="494.00" y2="193.70" stroke="#606060" stroke-width="0.9"/>
<line x1="820.30" y1="193.70" x2="815.90" y2="193.70" stroke="#606060" stroke-width="0.9"/>
<line x1="489.60" y1="174.67" x2="492.00" y2="174.67" stroke="#606060" stroke-width="0.9"/>
<line x1="820.30" y1="174.67" x2="817.90" y2="174.67" stroke="#606060" stroke-width="0.9"/>
<line x1="489.60" y1="163.55" x2="492.00" y2="163.55" stroke="#606060" stroke-width="0.9"/>
<line x1="820.30" y1="163.55" x2="817.90" y2="163.55" stroke="#606060" stroke-width="0.9"/>
<line x1="489.60" y1="155.65" x2="492.00" y2="155.65" stroke="#606060" stroke-width="0.9"/>
<line x1="820.30" y1="155.65" x2="817.90" y2="155.65" stroke="#606060" stroke-width="0.9"/>
<line x1="489.60" y1="149.53" x2="494.00" y2="149.53" stroke="#606060" stroke-width="0.9"/>
<line x1="820.30" y1="149.53" x2="815.90" y2="149.53" stroke="#606060" stroke-width="0.9"/>
<line x1="489.60" y1="144.52" x2="492.00" y2="144.52" stroke="#606060" stroke-width="0.9"/>
<line x1="820.30" y1="144.52" x2="817.90" y2="144.52" stroke="#606060" stroke-width="0.9"/>
<line x1="489.60" y1="140.29" x2="492.00" y2="140.29" stroke="#606060" stroke-width="0.9"/>
<line x1="820.30" y1="140.29" x2="817.90" y2="140.29" stroke="#606060" stroke-width="0.9"/>
<line x1="489.60" y1="136.62" x2="492.00" y2="136.62" stroke="#606060" stroke-width="0.9"/>
<line x1="820.30" y1="136.62" x2="817.90" y2="136.62" stroke="#606060" stroke-width="0.9"/>
<line x1="489.60" y1="133.39" x2="492.00" y2="133.39" stroke="#606060" stroke-width="0.9"/>
<line x1="820.30" y1="133.39" x2="817.90" y2="133.39" stroke="#606060" stroke-width="0.9"/>
<line x1="489.60" y1="130.50" x2="494.00" y2="130.50" stroke="#606060" stroke-width="0.9"/>
<line x1="820.30" y1="130.50" x2="815.90" y2="130.50" stroke="#606060" stroke-width="0.9"/>
<line x1="489.60" y1="111.47" x2="492.00" y2="111.47" stroke="#606060" stroke-width="0.9"/>
<line x1="820.30" y1="111.47" x2="817.90" y2="111.47" stroke="#606060" stroke-width="0.9"/>
<line x1="489.60" y1="100.35" x2="492.00" y2="100.35" stroke="#606060" stroke-width="0.9"/>
<line x1="820.30" y1="100.35" x2="817.90" y2="100.35" stroke="#606060" stroke-width="0.9"/>
<line x1="489.60" y1="92.45" x2="492.00" y2="92.45" stroke="#606060" stroke-width="0.9"/>
<line x1="820.30" y1="92.45" x2="817.90" y2="92.45" stroke="#606060" stroke-width="0.9"/>
<line x1="489.60" y1="86.33" x2="494.00" y2="86.33" stroke="#606060" stroke-width="0.9"/>
<line x1="820.30" y1="86.33" x2="815.90" y2="86.33" stroke="#606060" stroke-width="0.9"/>
<line x1="489.60" y1="81.32" x2="492.00" y2="81.32" stroke="#606060" stroke-width="0.9"/>
<line x1="820.30" y1="81.32" x2="817.90" y2="81.32" stroke="#606060" stroke-width="0.9"/>
<line x1="489.60" y1="77.09" x2="492.00" y2="77.09" stroke="#606060" stroke-width="0.9"/>
<line x1="820.30" y1="77.09" x2="817.90" y2="77.09" stroke="#606060" stroke-width="0.9"/>
<line x1="489.60" y1="73.42" x2="492.00" y2="73.42" stroke="#606060" stroke-width="0.9"/>
<line x1="820.30" y1="73.42" x2="817.90" y2="73.42" stroke="#606060" stroke-width="0.9"/>
<line x1="489.60" y1="70.19" x2="492.00" y2="70.19" stroke="#606060" stroke-width="0.9"/>
<line x1="820.30" y1="70.19" x2="817.90" y2="70.19" stroke="#606060" stroke-width="0.9"/>
<line x1="489.60" y1="67.30" x2="494.00" y2="67.30" stroke="#606060" stroke-width="0.9"/>
<line x1="820.30" y1="67.30" x2="815.90" y2="67.30" stroke="#606060" stroke-width="0.9"/>
<line x1="489.60" y1="48.27" x2="492.00" y2="48.27" stroke="#606060" stroke-width="0.9"/>
<line x1="820.30" y1="48.27" x2="817.90" y2="48.27" stroke="#606060" stroke-width="0.9"/>
<line x1="489.60" y1="37.15" x2="492.00" y2="37.15" stroke="#606060" stroke-width="0.9"/>
<line x1="820.30" y1="37.15" x2="817.90" y2="37.15" stroke="#606060" stroke-width="0.9"/>
<line x1="489.60" y1="29.25" x2="492.00" y2="29.25" stroke="#606060" stroke-width="0.9"/>
<line x1="820.30" y1="29.25" x2="817.90" y2="29.25" stroke="#606060" stroke-width="0.9"/>
<line x1="489.60" y1="23.13" x2="494.00" y2="23.13" stroke="#606060" stroke-width="0.9"/>
<line x1="820.30" y1="23.13" x2="815.90" y2="23.13" stroke="#606060" stroke-width="0.9"/>
<line x1="489.60" y1="18.12" x2="492.00" y2="18.12" stroke="#606060" stroke-width="0.9"/>
<line x1="820.30" y1="18.12" x2="817.90" y2="18.12" stroke="#606060" stroke-width="0.9"/>
<line x1="489.60" y1="13.89" x2="492.00" y2="13.89" stroke="#606060" stroke-width="0.9"/>
<line x1="820.30" y1="13.89" x2="817.90" y2="13.89" stroke="#606060" stroke-width="0.9"/>
<text transform="translate(65.00,216.00) scale(1.035,1)" font-size="15.6" fill="#666666" stroke="#666666" stroke-width="0.3" text-anchor="end" font-family="Liberation Sans, sans-serif">0.06</text>
<text transform="translate(65.00,190.18) scale(1.035,1)" font-size="15.6" fill="#666666" stroke="#666666" stroke-width="0.3" text-anchor="end" font-family="Liberation Sans, sans-serif">0.08</text>
<text transform="translate(65.00,164.36) scale(1.035,1)" font-size="15.6" fill="#666666" stroke="#666666" stroke-width="0.3" text-anchor="end" font-family="Liberation Sans, sans-serif">0.10</text>
<text transform="translate(65.00,138.54) scale(1.035,1)" font-size="15.6" fill="#666666" stroke="#666666" stroke-width="0.3" text-anchor="end" font-family="Liberation Sans, sans-serif">0.12</text>
<text transform="translate(65.00,112.72) scale(1.035,1)" font-size="15.6" fill="#666666" stroke="#666666" stroke-width="0.3" text-anchor="end" font-family="Liberation Sans, sans-serif">0.14</text>
<text transform="translate(65.00,86.90) scale(1.035,1)" font-size="15.6" fill="#666666" stroke="#666666" stroke-width="0.3" text-anchor="end" font-family="Liberation Sans, sans-serif">0.16</text>
<text transform="translate(65.00,61.08) scale(1.035,1)" font-size="15.6" fill="#666666" stroke="#666666" stroke-width="0.3" text-anchor="end" font-family="Liberation Sans, sans-serif">0.18</text>
<text transform="translate(65.00,35.26) scale(1.035,1)" font-size="15.6" fill="#666666" stroke="#666666" stroke-width="0.3" text-anchor="end" font-family="Liberation Sans, sans-serif">0.20</text>
<text transform="translate(93.30,234.70) scale(1.035,1)" font-size="15.6" fill="#666666" stroke="#666666" stroke-width="0.3" text-anchor="middle" font-family="Liberation Sans, sans-serif">1</text>
<text transform="translate(514.60,233.30) scale(0.97,1)" font-size="15.3" fill="#666666" stroke="#666666" stroke-width="0.3" text-anchor="middle" font-family="Liberation Sans, sans-serif">1</text>
<text transform="translate(173.85,234.70) scale(1.035,1)" font-size="15.6" fill="#666666" stroke="#666666" stroke-width="0.3" text-anchor="middle" font-family="Liberation Sans, sans-serif">10</text>
<text transform="translate(594.65,233.30) scale(0.97,1)" font-size="15.3" fill="#666666" stroke="#666666" stroke-width="0.3" text-anchor="middle" font-family="Liberation Sans, sans-serif">10</text>
<text transform="translate(254.40,234.70) scale(1.035,1)" font-size="15.6" fill="#666666" stroke="#666666" stroke-width="0.3" text-anchor="middle" font-family="Liberation Sans, sans-serif">100</text>
<text transform="translate(674.70,233.30) scale(0.97,1)" font-size="15.3" fill="#666666" stroke="#666666" stroke-width="0.3" text-anchor="middle" font-family="Liberation Sans, sans-serif">100</text>
<text transform="translate(334.95,234.70) scale(1.035,1)" font-size="15.6" fill="#666666" stroke="#666666" stroke-width="0.3" text-anchor="middle" font-family="Liberation Sans, sans-serif">1000</text>
<text transform="translate(754.75,233.30) scale(0.97,1)" font-size="15.3" fill="#666666" stroke="#666666" stroke-width="0.3" text-anchor="middle" font-family="Liberation Sans, sans-serif">1000</text>
<text transform="translate(485.30,28.53) scale(0.99,1)" font-size="15.0" fill="#666666" stroke="#666666" stroke-width="0.3" text-anchor="end" font-family="Liberation Sans, sans-serif">0.050</text>
<text transform="translate(485.30,72.70) scale(0.99,1)" font-size="15.0" fill="#666666" stroke="#666666" stroke-width="0.3" text-anchor="end" font-family="Liberation Sans, sans-serif">0.010</text>
<text transform="translate(485.30,91.73) scale(0.99,1)" font-size="15.0" fill="#666666" stroke="#666666" stroke-width="0.3" text-anchor="end" font-family="Liberation Sans, sans-serif">0.005</text>
<text transform="translate(485.30,135.90) scale(0.99,1)" font-size="15.0" fill="#666666" stroke="#666666" stroke-width="0.3" text-anchor="end" font-family="Liberation Sans, sans-serif">0.001</text>
<text transform="translate(431.00,155.03) scale(0.9040,1)" font-size="15.0" fill="#666666" stroke="#666666" stroke-width="0.36" font-family="Liberation Sans, sans-serif" >5.</text>
<path d="M447.10,149.03 L452.30,154.23 M447.10,154.23 L452.30,149.03" stroke="#666666" stroke-width="1.35" fill="none"/>
<text transform="translate(458.20,155.03) scale(0.8443,1)" font-size="15.0" fill="#666666" stroke="#666666" stroke-width="0.36" font-family="Liberation Sans, sans-serif" >10</text>
<text transform="translate(474.30,149.03) scale(0.8618,1)" font-size="10.8" fill="#666666" stroke="#666666" stroke-width="0.36" font-family="Liberation Sans, sans-serif" >−4</text>
<text transform="translate(432.30,199.20) scale(0.8000,1)" font-size="15.0" fill="#666666" stroke="#666666" stroke-width="0.36" font-family="Liberation Sans, sans-serif" >1.</text>
<path d="M447.10,193.20 L452.30,198.40 M447.10,198.40 L452.30,193.20" stroke="#666666" stroke-width="1.35" fill="none"/>
<text transform="translate(458.20,199.20) scale(0.8443,1)" font-size="15.0" fill="#666666" stroke="#666666" stroke-width="0.36" font-family="Liberation Sans, sans-serif" >10</text>
<text transform="translate(474.30,193.20) scale(0.8618,1)" font-size="10.8" fill="#666666" stroke="#666666" stroke-width="0.36" font-family="Liberation Sans, sans-serif" >−4</text>
<text transform="translate(431.00,218.23) scale(0.9040,1)" font-size="15.0" fill="#666666" stroke="#666666" stroke-width="0.36" font-family="Liberation Sans, sans-serif" >5.</text>
<path d="M447.10,212.23 L452.30,217.43 M447.10,217.43 L452.30,212.23" stroke="#666666" stroke-width="1.35" fill="none"/>
<text transform="translate(458.20,218.23) scale(0.8443,1)" font-size="15.0" fill="#666666" stroke="#666666" stroke-width="0.36" font-family="Liberation Sans, sans-serif" >10</text>
<text transform="translate(474.30,212.23) scale(0.8618,1)" font-size="10.8" fill="#666666" stroke="#666666" stroke-width="0.36" font-family="Liberation Sans, sans-serif" >−5</text>
<text x="73.20" y="40.30" font-size="14.7" fill="#000" stroke="#000" stroke-width="0.3" text-anchor="start" font-family="Liberation Sans, sans-serif" >(a)</text>
<text x="498.40" y="40.50" font-size="14.7" fill="#000" stroke="#000" stroke-width="0.3" text-anchor="start" font-family="Liberation Sans, sans-serif" >(b)</text>
<text transform="translate(223.60,199.80) scale(1.0013,1)" font-size="12.5" fill="#0433ff" stroke="#0433ff" stroke-width="0.36" font-family="Liberation Sans, sans-serif" >scalar particle</text>
<text transform="translate(305.70,199.80) scale(0.9081,1)" font-size="12.5" fill="#0433ff" stroke="#0433ff" stroke-width="0.36" font-family="Liberation Sans, sans-serif" >(s=0)</text>
<text transform="translate(335.80,199.80) scale(0.9233,1)" font-size="12.5" fill="#0433ff" stroke="#0433ff" stroke-width="0.36" font-family="Liberation Sans, sans-serif" >(0,0)+(1,1)</text>
<text transform="translate(671.10,199.40) scale(1.0225,1)" font-size="12.5" fill="#0433ff" stroke="#0433ff" stroke-width="0.36" font-family="Liberation Sans, sans-serif" >scalar</text>
<text transform="translate(709.90,199.40) scale(1.0099,1)" font-size="12.5" fill="#0433ff" stroke="#0433ff" stroke-width="0.36" font-family="Liberation Sans, sans-serif" >particle</text>
<text transform="translate(756.30,199.40) scale(0.9116,1)" font-size="12.5" fill="#0433ff" stroke="#0433ff" stroke-width="0.36" font-family="Liberation Sans, sans-serif" >(s=0)</text>
<text transform="translate(787.90,199.40) scale(0.9261,1)" font-size="12.5" fill="#0433ff" stroke="#0433ff" stroke-width="0.36" font-family="Liberation Sans, sans-serif" >(0,0)</text>
<text x="248.40" y="86.50" font-size="14.3" fill="#5ad632" stroke="#5ad632" stroke-width="0.3" text-anchor="start" font-family="Liberation Sans, sans-serif" >total</text>
<g transform="translate(188.6,28.3) rotate(17.3)">
<text transform="translate(0.00,0.00) scale(0.9683,1)" font-size="12.4" fill="#000" stroke="#000" stroke-width="0.36" font-family="Liberation Sans, sans-serif" >graviton</text>
<text transform="translate(46.90,0.00) scale(0.9441,1)" font-size="12.4" fill="#000" stroke="#000" stroke-width="0.36" font-family="Liberation Sans, sans-serif" >(s=2)</text>
<text transform="translate(76.30,0.00) scale(0.9099,1)" font-size="12.4" fill="#000" stroke="#000" stroke-width="0.36" font-family="Liberation Sans, sans-serif" >(2,2)+(3,3)</text>
</g>
<text transform="translate(284.9,27.6) rotate(40.7)" font-size="12.5" fill="#ff9300" stroke="#ff9300" stroke-width="0.3" font-family="Liberation Sans, sans-serif">photon (s=1) (1,1)+(2,2)</text>
<g transform="translate(22.2,131.3) rotate(-90)">
<text transform="translate(0.61,0.00) scale(1.0280,1.0139)" font-size="22" fill="#444444" stroke="#444444" stroke-width="0.0" font-family="Liberation Serif, serif" font-style="italic" >M</text>
<line x1="23.20" y1="5.50" x2="30.60" y2="-15.60" stroke="#444444" stroke-width="1.0" stroke-linecap="round"/>
<text transform="translate(32.60,0.28) scale(0.9617,1.0976)" font-size="22" fill="#444444" stroke="#444444" stroke-width="0.0" font-family="Liberation Serif, serif" font-style="italic" >ℓ</text>
</g>
<g transform="translate(431.0,131.0) rotate(-90)">
<text transform="translate(0.20,0.19) scale(1.1174,1.0548)" font-size="22" fill="#444444" stroke="#444444" stroke-width="0.0" font-family="Liberation Serif, serif" font-style="italic" >J</text>
<line x1="13.30" y1="5.50" x2="21.50" y2="-16.40" stroke="#444444" stroke-width="1.0" stroke-linecap="round"/>
<text transform="translate(23.40,0.28) scale(0.9836,1.1246)" font-size="22" fill="#444444" stroke="#444444" stroke-width="0.0" font-family="Liberation Serif, serif" font-style="italic" >ℓ</text>
<text transform="translate(33.10,-10.50) scale(0.9733,0.9246)" font-size="15" fill="#444444" stroke="#444444" stroke-width="0.0" font-family="Liberation Serif, serif" >2</text>
</g>
<g transform="translate(0,261.7)">
<text transform="translate(189.60,-0.03) scale(1.0909,1.1270)" font-size="22" fill="#444444" stroke="#444444" stroke-width="0.0" font-family="Liberation Serif, serif" font-style="italic" >t</text>
<line x1="198.60" y1="5.30" x2="206.60" y2="-16.20" stroke="#444444" stroke-width="1.0" stroke-linecap="round"/>
<text transform="translate(208.40,0.18) scale(0.9617,1.0774)" font-size="22" fill="#444444" stroke="#444444" stroke-width="0.0" font-family="Liberation Serif, serif" font-style="italic" >ℓ</text>
</g>
<g transform="translate(452.4,261.7)">
<text transform="translate(189.60,-0.03) scale(1.0909,1.1270)" font-size="22" fill="#444444" stroke="#444444" stroke-width="0.0" font-family="Liberation Serif, serif" font-style="italic" >t</text>
<line x1="198.60" y1="5.30" x2="206.60" y2="-16.20" stroke="#444444" stroke-width="1.0" stroke-linecap="round"/>
<text transform="translate(208.40,0.18) scale(0.9617,1.0774)" font-size="22" fill="#444444" stroke="#444444" stroke-width="0.0" font-family="Liberation Serif, serif" font-style="italic" >ℓ</text>
</g>
</svg>
</body></html>
